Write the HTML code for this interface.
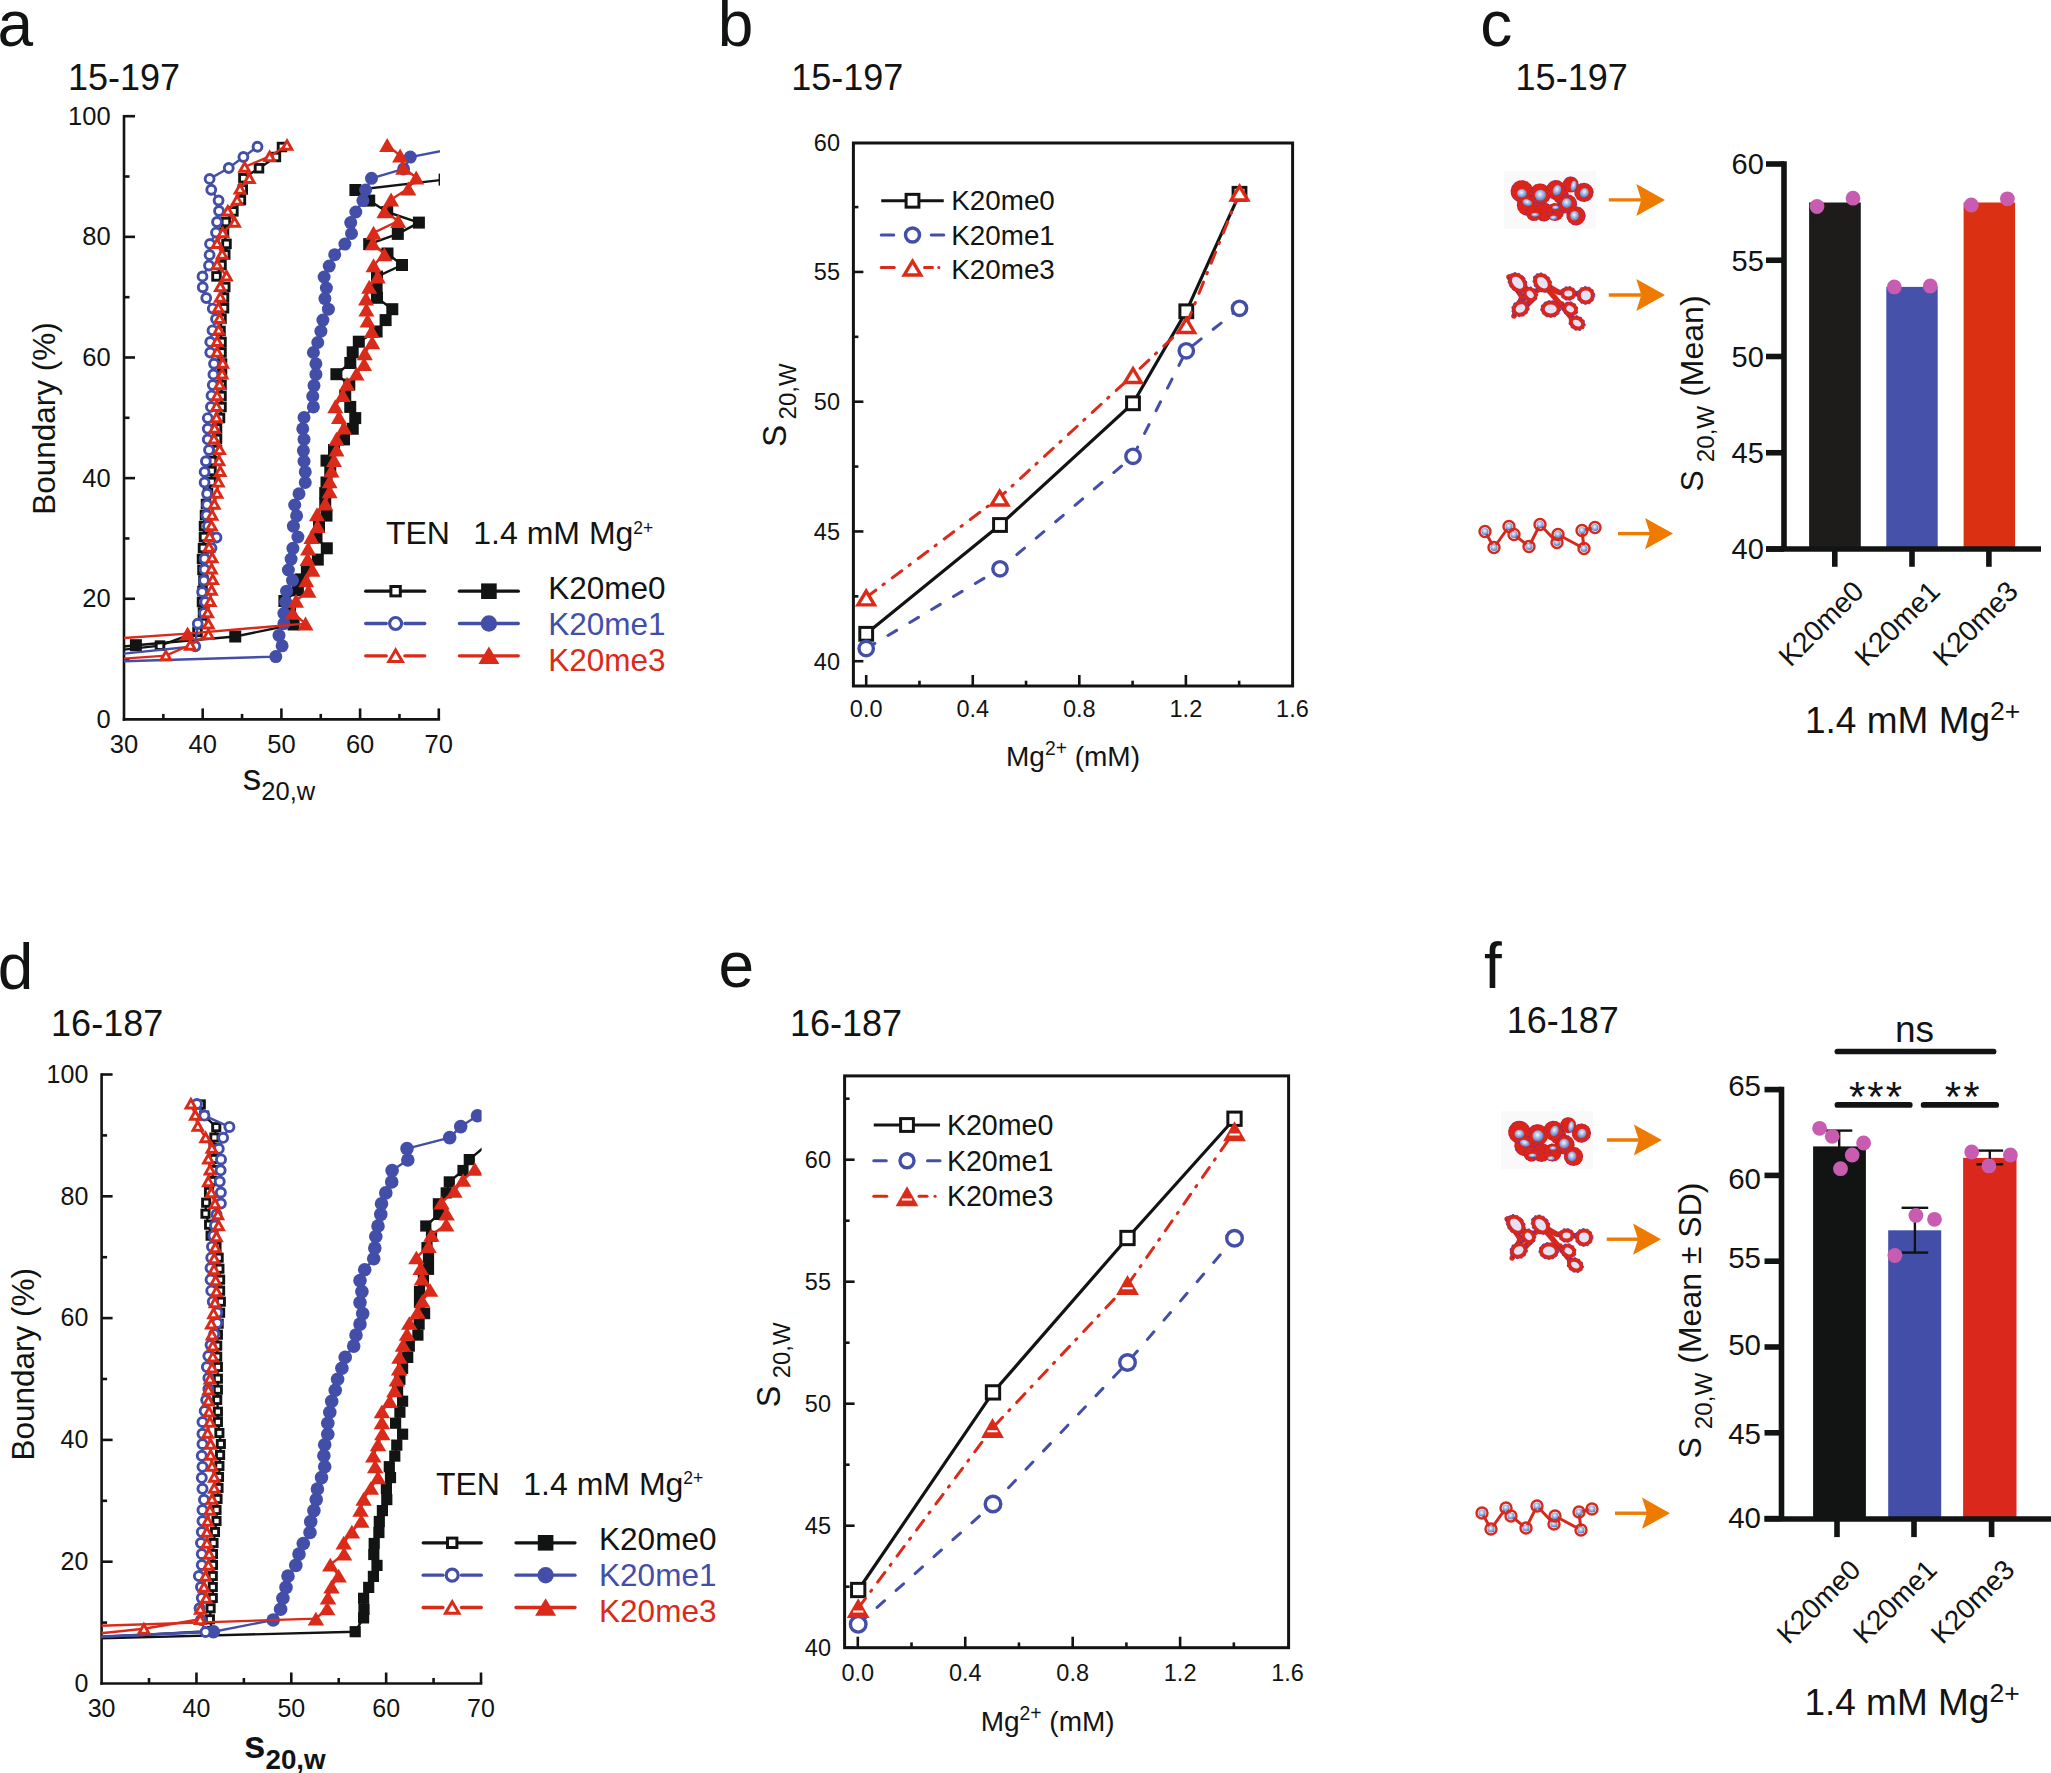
<!DOCTYPE html>
<html><head><meta charset="utf-8"><title>Figure</title>
<style>html,body{margin:0;padding:0;background:#fff;}svg{display:block;}</style>
</head><body>
<svg xmlns="http://www.w3.org/2000/svg" width="2051" height="1773" viewBox="0 0 2051 1773" font-family='"Liberation Sans", Arial, Helvetica, sans-serif'>
<defs>
<clipPath id="clipA"><rect x="124" y="100" width="316" height="620"/></clipPath>
<clipPath id="clipD"><rect x="101.6" y="1060" width="380" height="624"/></clipPath>
<radialGradient id="nuc" cx="0.45" cy="0.4" r="0.65"><stop offset="0" stop-color="#f4f8ff"/><stop offset="0.4" stop-color="#a9bde6"/><stop offset="0.85" stop-color="#6680bf"/><stop offset="1" stop-color="#3d4f8a"/></radialGradient>
</defs>
<rect x="0" y="0" width="2051" height="1773" fill="#fff"/>
<text x="-2.4" y="45.5" font-size="64" fill="#121413" text-anchor="start" >a</text>
<text x="717.8" y="45.6" font-size="64" fill="#121413" text-anchor="start" >b</text>
<text x="1480.2" y="46.2" font-size="64" fill="#121413" text-anchor="start" >c</text>
<text x="-2.2" y="988.6" font-size="64" fill="#121413" text-anchor="start" >d</text>
<text x="718.5" y="986.5" font-size="64" fill="#121413" text-anchor="start" >e</text>
<text x="1484" y="988" font-size="64" fill="#121413" text-anchor="start" >f</text>
<text x="68" y="90" font-size="36" fill="#121413" text-anchor="start" >15-197</text>
<text x="791.2" y="89.8" font-size="36" fill="#121413" text-anchor="start" >15-197</text>
<text x="1515.6" y="89.8" font-size="36" fill="#121413" text-anchor="start" >15-197</text>
<text x="51.1" y="1036.2" font-size="36" fill="#121413" text-anchor="start" >16-187</text>
<text x="790" y="1036.2" font-size="36" fill="#121413" text-anchor="start" >16-187</text>
<text x="1506.8" y="1033.1" font-size="36" fill="#121413" text-anchor="start" >16-187</text>
<line x1="124" y1="114.9" x2="124" y2="720.7" stroke="#121413" stroke-width="2.6" stroke-linecap="butt" />
<line x1="122.7" y1="719.4" x2="440.1" y2="719.4" stroke="#121413" stroke-width="2.6" stroke-linecap="butt" />
<line x1="124" y1="659.08" x2="129.5" y2="659.08" stroke="#121413" stroke-width="2.6" stroke-linecap="butt" />
<line x1="124" y1="598.76" x2="135" y2="598.76" stroke="#121413" stroke-width="2.6" stroke-linecap="butt" />
<line x1="124" y1="538.44" x2="129.5" y2="538.44" stroke="#121413" stroke-width="2.6" stroke-linecap="butt" />
<line x1="124" y1="478.12" x2="135" y2="478.12" stroke="#121413" stroke-width="2.6" stroke-linecap="butt" />
<line x1="124" y1="417.8" x2="129.5" y2="417.8" stroke="#121413" stroke-width="2.6" stroke-linecap="butt" />
<line x1="124" y1="357.48" x2="135" y2="357.48" stroke="#121413" stroke-width="2.6" stroke-linecap="butt" />
<line x1="124" y1="297.16" x2="129.5" y2="297.16" stroke="#121413" stroke-width="2.6" stroke-linecap="butt" />
<line x1="124" y1="236.84" x2="135" y2="236.84" stroke="#121413" stroke-width="2.6" stroke-linecap="butt" />
<line x1="124" y1="176.52" x2="129.5" y2="176.52" stroke="#121413" stroke-width="2.6" stroke-linecap="butt" />
<line x1="124" y1="116.2" x2="135" y2="116.2" stroke="#121413" stroke-width="2.6" stroke-linecap="butt" />
<line x1="163.35" y1="719.4" x2="163.35" y2="713.9" stroke="#121413" stroke-width="2.6" stroke-linecap="butt" />
<line x1="202.7" y1="719.4" x2="202.7" y2="708.4" stroke="#121413" stroke-width="2.6" stroke-linecap="butt" />
<line x1="242.05" y1="719.4" x2="242.05" y2="713.9" stroke="#121413" stroke-width="2.6" stroke-linecap="butt" />
<line x1="281.4" y1="719.4" x2="281.4" y2="708.4" stroke="#121413" stroke-width="2.6" stroke-linecap="butt" />
<line x1="320.75" y1="719.4" x2="320.75" y2="713.9" stroke="#121413" stroke-width="2.6" stroke-linecap="butt" />
<line x1="360.1" y1="719.4" x2="360.1" y2="708.4" stroke="#121413" stroke-width="2.6" stroke-linecap="butt" />
<line x1="399.45" y1="719.4" x2="399.45" y2="713.9" stroke="#121413" stroke-width="2.6" stroke-linecap="butt" />
<line x1="438.8" y1="719.4" x2="438.8" y2="708.4" stroke="#121413" stroke-width="2.6" stroke-linecap="butt" />
<text x="110.6" y="728" font-size="25.5" fill="#121413" text-anchor="end" >0</text>
<text x="110.6" y="607.36" font-size="25.5" fill="#121413" text-anchor="end" >20</text>
<text x="110.6" y="486.72" font-size="25.5" fill="#121413" text-anchor="end" >40</text>
<text x="110.6" y="366.08" font-size="25.5" fill="#121413" text-anchor="end" >60</text>
<text x="110.6" y="245.44" font-size="25.5" fill="#121413" text-anchor="end" >80</text>
<text x="110.6" y="124.8" font-size="25.5" fill="#121413" text-anchor="end" >100</text>
<text x="124" y="753" font-size="25.5" fill="#121413" text-anchor="middle" >30</text>
<text x="202.7" y="753" font-size="25.5" fill="#121413" text-anchor="middle" >40</text>
<text x="281.4" y="753" font-size="25.5" fill="#121413" text-anchor="middle" >50</text>
<text x="360.1" y="753" font-size="25.5" fill="#121413" text-anchor="middle" >60</text>
<text x="438.8" y="753" font-size="25.5" fill="#121413" text-anchor="middle" >70</text>
<text transform="translate(54.6,418.5) rotate(-90)" font-size="31.5" fill="#121413" text-anchor="middle">Boundary (%)</text>
<text x="242.8" y="790" font-size="37" fill="#121413">s<tspan font-size="25.5" dy="10">20,w</tspan></text>
<polyline points="116,650.5 160,645.6 197.5,631.9 203,623 203,612.5 202,602 202.5,591 203.5,580.5 202.5,570 202,559 203,548 204,537 204,526 205,515 206,504 208,493 211.5,482 211.5,471 212,461 217,450 217,439 217,428.5 220,418 221.5,407 221.5,396 221.5,385 222,374 222,363.5 221.5,352.5 221.5,342 220.5,331 221.5,318.9 224,308.25 224,297.6 225.25,287 216.5,276.4 221.5,265.1 225.25,254.5 226.5,243.9 224,232.6 225.9,222 233.4,211.4 240.9,200.1 242.75,189.5 243.4,178.25 259,168.25 275.9,157 282,147" fill="none" stroke="#121413" stroke-width="2.4" stroke-linecap="round" stroke-linejoin="round" clip-path="url(#clipA)"/>
<g clip-path="url(#clipA)">
<rect x="112.2" y="646.7" width="7.6" height="7.6" fill="#fff" stroke="#121413" stroke-width="2.9"/>
<rect x="156.2" y="641.8" width="7.6" height="7.6" fill="#fff" stroke="#121413" stroke-width="2.9"/>
<rect x="193.7" y="628.1" width="7.6" height="7.6" fill="#fff" stroke="#121413" stroke-width="2.9"/>
<rect x="199.2" y="619.2" width="7.6" height="7.6" fill="#fff" stroke="#121413" stroke-width="2.9"/>
<rect x="199.2" y="608.7" width="7.6" height="7.6" fill="#fff" stroke="#121413" stroke-width="2.9"/>
<rect x="198.2" y="598.2" width="7.6" height="7.6" fill="#fff" stroke="#121413" stroke-width="2.9"/>
<rect x="198.7" y="587.2" width="7.6" height="7.6" fill="#fff" stroke="#121413" stroke-width="2.9"/>
<rect x="199.7" y="576.7" width="7.6" height="7.6" fill="#fff" stroke="#121413" stroke-width="2.9"/>
<rect x="198.7" y="566.2" width="7.6" height="7.6" fill="#fff" stroke="#121413" stroke-width="2.9"/>
<rect x="198.2" y="555.2" width="7.6" height="7.6" fill="#fff" stroke="#121413" stroke-width="2.9"/>
<rect x="199.2" y="544.2" width="7.6" height="7.6" fill="#fff" stroke="#121413" stroke-width="2.9"/>
<rect x="200.2" y="533.2" width="7.6" height="7.6" fill="#fff" stroke="#121413" stroke-width="2.9"/>
<rect x="200.2" y="522.2" width="7.6" height="7.6" fill="#fff" stroke="#121413" stroke-width="2.9"/>
<rect x="201.2" y="511.2" width="7.6" height="7.6" fill="#fff" stroke="#121413" stroke-width="2.9"/>
<rect x="202.2" y="500.2" width="7.6" height="7.6" fill="#fff" stroke="#121413" stroke-width="2.9"/>
<rect x="204.2" y="489.2" width="7.6" height="7.6" fill="#fff" stroke="#121413" stroke-width="2.9"/>
<rect x="207.7" y="478.2" width="7.6" height="7.6" fill="#fff" stroke="#121413" stroke-width="2.9"/>
<rect x="207.7" y="467.2" width="7.6" height="7.6" fill="#fff" stroke="#121413" stroke-width="2.9"/>
<rect x="208.2" y="457.2" width="7.6" height="7.6" fill="#fff" stroke="#121413" stroke-width="2.9"/>
<rect x="213.2" y="446.2" width="7.6" height="7.6" fill="#fff" stroke="#121413" stroke-width="2.9"/>
<rect x="213.2" y="435.2" width="7.6" height="7.6" fill="#fff" stroke="#121413" stroke-width="2.9"/>
<rect x="213.2" y="424.7" width="7.6" height="7.6" fill="#fff" stroke="#121413" stroke-width="2.9"/>
<rect x="216.2" y="414.2" width="7.6" height="7.6" fill="#fff" stroke="#121413" stroke-width="2.9"/>
<rect x="217.7" y="403.2" width="7.6" height="7.6" fill="#fff" stroke="#121413" stroke-width="2.9"/>
<rect x="217.7" y="392.2" width="7.6" height="7.6" fill="#fff" stroke="#121413" stroke-width="2.9"/>
<rect x="217.7" y="381.2" width="7.6" height="7.6" fill="#fff" stroke="#121413" stroke-width="2.9"/>
<rect x="218.2" y="370.2" width="7.6" height="7.6" fill="#fff" stroke="#121413" stroke-width="2.9"/>
<rect x="218.2" y="359.7" width="7.6" height="7.6" fill="#fff" stroke="#121413" stroke-width="2.9"/>
<rect x="217.7" y="348.7" width="7.6" height="7.6" fill="#fff" stroke="#121413" stroke-width="2.9"/>
<rect x="217.7" y="338.2" width="7.6" height="7.6" fill="#fff" stroke="#121413" stroke-width="2.9"/>
<rect x="216.7" y="327.2" width="7.6" height="7.6" fill="#fff" stroke="#121413" stroke-width="2.9"/>
<rect x="217.7" y="315.1" width="7.6" height="7.6" fill="#fff" stroke="#121413" stroke-width="2.9"/>
<rect x="220.2" y="304.45" width="7.6" height="7.6" fill="#fff" stroke="#121413" stroke-width="2.9"/>
<rect x="220.2" y="293.8" width="7.6" height="7.6" fill="#fff" stroke="#121413" stroke-width="2.9"/>
<rect x="221.45" y="283.2" width="7.6" height="7.6" fill="#fff" stroke="#121413" stroke-width="2.9"/>
<rect x="212.7" y="272.6" width="7.6" height="7.6" fill="#fff" stroke="#121413" stroke-width="2.9"/>
<rect x="217.7" y="261.3" width="7.6" height="7.6" fill="#fff" stroke="#121413" stroke-width="2.9"/>
<rect x="221.45" y="250.7" width="7.6" height="7.6" fill="#fff" stroke="#121413" stroke-width="2.9"/>
<rect x="222.7" y="240.1" width="7.6" height="7.6" fill="#fff" stroke="#121413" stroke-width="2.9"/>
<rect x="220.2" y="228.8" width="7.6" height="7.6" fill="#fff" stroke="#121413" stroke-width="2.9"/>
<rect x="222.1" y="218.2" width="7.6" height="7.6" fill="#fff" stroke="#121413" stroke-width="2.9"/>
<rect x="229.6" y="207.6" width="7.6" height="7.6" fill="#fff" stroke="#121413" stroke-width="2.9"/>
<rect x="237.1" y="196.3" width="7.6" height="7.6" fill="#fff" stroke="#121413" stroke-width="2.9"/>
<rect x="238.95" y="185.7" width="7.6" height="7.6" fill="#fff" stroke="#121413" stroke-width="2.9"/>
<rect x="239.6" y="174.45" width="7.6" height="7.6" fill="#fff" stroke="#121413" stroke-width="2.9"/>
<rect x="255.2" y="164.45" width="7.6" height="7.6" fill="#fff" stroke="#121413" stroke-width="2.9"/>
<rect x="272.1" y="153.2" width="7.6" height="7.6" fill="#fff" stroke="#121413" stroke-width="2.9"/>
<rect x="278.2" y="143.2" width="7.6" height="7.6" fill="#fff" stroke="#121413" stroke-width="2.9"/>
</g>
<polyline points="116,647.5 135.9,645.2 235.25,636.5 293.6,624.5 290,613 284.4,601 297.9,590.3 300.6,579.4 306.9,569.5 317.8,559.6 326.8,548.3 316.5,537.5 319,526.25 326.5,515.6 325.25,503.75 325.25,493.1 326.5,482.5 330.25,471.25 326.5,460.6 334,450 344,439.4 352.75,428.75 355.25,418.1 350.25,406.9 345.25,395.6 349.3,384.6 336.4,374.2 350.3,363 352.7,352.3 358.8,341.7 376.6,331.5 385.6,320.1 392.3,309.2 377,297.8 376.6,287.6 377,276.6 402,265 387.5,253.5 369.2,244.1 397.8,233.9 418.9,222.6 387.2,212 369.2,200.6 355.4,190 444.6,179.6" fill="none" stroke="#121413" stroke-width="2.4" stroke-linecap="round" stroke-linejoin="round" clip-path="url(#clipA)"/>
<g clip-path="url(#clipA)">
<rect x="110" y="641.5" width="12" height="12" fill="#121413"/>
<rect x="129.9" y="639.2" width="12" height="12" fill="#121413"/>
<rect x="229.25" y="630.5" width="12" height="12" fill="#121413"/>
<rect x="287.6" y="618.5" width="12" height="12" fill="#121413"/>
<rect x="284" y="607" width="12" height="12" fill="#121413"/>
<rect x="278.4" y="595" width="12" height="12" fill="#121413"/>
<rect x="291.9" y="584.3" width="12" height="12" fill="#121413"/>
<rect x="294.6" y="573.4" width="12" height="12" fill="#121413"/>
<rect x="300.9" y="563.5" width="12" height="12" fill="#121413"/>
<rect x="311.8" y="553.6" width="12" height="12" fill="#121413"/>
<rect x="320.8" y="542.3" width="12" height="12" fill="#121413"/>
<rect x="310.5" y="531.5" width="12" height="12" fill="#121413"/>
<rect x="313" y="520.25" width="12" height="12" fill="#121413"/>
<rect x="320.5" y="509.6" width="12" height="12" fill="#121413"/>
<rect x="319.25" y="497.75" width="12" height="12" fill="#121413"/>
<rect x="319.25" y="487.1" width="12" height="12" fill="#121413"/>
<rect x="320.5" y="476.5" width="12" height="12" fill="#121413"/>
<rect x="324.25" y="465.25" width="12" height="12" fill="#121413"/>
<rect x="320.5" y="454.6" width="12" height="12" fill="#121413"/>
<rect x="328" y="444" width="12" height="12" fill="#121413"/>
<rect x="338" y="433.4" width="12" height="12" fill="#121413"/>
<rect x="346.75" y="422.75" width="12" height="12" fill="#121413"/>
<rect x="349.25" y="412.1" width="12" height="12" fill="#121413"/>
<rect x="344.25" y="400.9" width="12" height="12" fill="#121413"/>
<rect x="339.25" y="389.6" width="12" height="12" fill="#121413"/>
<rect x="343.3" y="378.6" width="12" height="12" fill="#121413"/>
<rect x="330.4" y="368.2" width="12" height="12" fill="#121413"/>
<rect x="344.3" y="357" width="12" height="12" fill="#121413"/>
<rect x="346.7" y="346.3" width="12" height="12" fill="#121413"/>
<rect x="352.8" y="335.7" width="12" height="12" fill="#121413"/>
<rect x="370.6" y="325.5" width="12" height="12" fill="#121413"/>
<rect x="379.6" y="314.1" width="12" height="12" fill="#121413"/>
<rect x="386.3" y="303.2" width="12" height="12" fill="#121413"/>
<rect x="371" y="291.8" width="12" height="12" fill="#121413"/>
<rect x="370.6" y="281.6" width="12" height="12" fill="#121413"/>
<rect x="371" y="270.6" width="12" height="12" fill="#121413"/>
<rect x="396" y="259" width="12" height="12" fill="#121413"/>
<rect x="381.5" y="247.5" width="12" height="12" fill="#121413"/>
<rect x="363.2" y="238.1" width="12" height="12" fill="#121413"/>
<rect x="391.8" y="227.9" width="12" height="12" fill="#121413"/>
<rect x="412.9" y="216.6" width="12" height="12" fill="#121413"/>
<rect x="381.2" y="206" width="12" height="12" fill="#121413"/>
<rect x="363.2" y="194.6" width="12" height="12" fill="#121413"/>
<rect x="349.4" y="184" width="12" height="12" fill="#121413"/>
<rect x="438.6" y="173.6" width="12" height="12" fill="#121413"/>
</g>
<polyline points="116,661.5 275.8,656.6 282.1,645.8 279,635.4 283.9,623.6 283.9,613.3 285.7,602 286.6,591.2 292.5,580.3 288.4,570 291.1,559.1 292.9,548.3 297.9,537 293.4,526.2 296.6,515.8 294.7,505 299,493.75 305.25,482.5 305.25,471.9 304,461.25 303.4,450.6 304,439.4 302.75,428.75 304,417.5 313.4,406.9 312.75,396.25 314,385.6 315.9,374.4 315.9,363.75 313.4,352.5 317.75,342.5 320.9,331.2 322.9,320.1 328.4,309.2 324.9,298.6 326.4,288 324.1,277 329.2,266.1 334.7,254.7 344.9,244.1 351.5,233.5 350.7,222.6 355.8,212 362.9,200.6 365.6,190 371.5,178.3 403.6,168.9 410.3,157.1 470,145.5" fill="none" stroke="#434EA8" stroke-width="2.4" stroke-linecap="round" stroke-linejoin="round" clip-path="url(#clipA)"/>
<g clip-path="url(#clipA)">
<circle cx="116" cy="661.5" r="6.5" fill="#434EA8"/>
<circle cx="275.8" cy="656.6" r="6.5" fill="#434EA8"/>
<circle cx="282.1" cy="645.8" r="6.5" fill="#434EA8"/>
<circle cx="279" cy="635.4" r="6.5" fill="#434EA8"/>
<circle cx="283.9" cy="623.6" r="6.5" fill="#434EA8"/>
<circle cx="283.9" cy="613.3" r="6.5" fill="#434EA8"/>
<circle cx="285.7" cy="602" r="6.5" fill="#434EA8"/>
<circle cx="286.6" cy="591.2" r="6.5" fill="#434EA8"/>
<circle cx="292.5" cy="580.3" r="6.5" fill="#434EA8"/>
<circle cx="288.4" cy="570" r="6.5" fill="#434EA8"/>
<circle cx="291.1" cy="559.1" r="6.5" fill="#434EA8"/>
<circle cx="292.9" cy="548.3" r="6.5" fill="#434EA8"/>
<circle cx="297.9" cy="537" r="6.5" fill="#434EA8"/>
<circle cx="293.4" cy="526.2" r="6.5" fill="#434EA8"/>
<circle cx="296.6" cy="515.8" r="6.5" fill="#434EA8"/>
<circle cx="294.7" cy="505" r="6.5" fill="#434EA8"/>
<circle cx="299" cy="493.75" r="6.5" fill="#434EA8"/>
<circle cx="305.25" cy="482.5" r="6.5" fill="#434EA8"/>
<circle cx="305.25" cy="471.9" r="6.5" fill="#434EA8"/>
<circle cx="304" cy="461.25" r="6.5" fill="#434EA8"/>
<circle cx="303.4" cy="450.6" r="6.5" fill="#434EA8"/>
<circle cx="304" cy="439.4" r="6.5" fill="#434EA8"/>
<circle cx="302.75" cy="428.75" r="6.5" fill="#434EA8"/>
<circle cx="304" cy="417.5" r="6.5" fill="#434EA8"/>
<circle cx="313.4" cy="406.9" r="6.5" fill="#434EA8"/>
<circle cx="312.75" cy="396.25" r="6.5" fill="#434EA8"/>
<circle cx="314" cy="385.6" r="6.5" fill="#434EA8"/>
<circle cx="315.9" cy="374.4" r="6.5" fill="#434EA8"/>
<circle cx="315.9" cy="363.75" r="6.5" fill="#434EA8"/>
<circle cx="313.4" cy="352.5" r="6.5" fill="#434EA8"/>
<circle cx="317.75" cy="342.5" r="6.5" fill="#434EA8"/>
<circle cx="320.9" cy="331.2" r="6.5" fill="#434EA8"/>
<circle cx="322.9" cy="320.1" r="6.5" fill="#434EA8"/>
<circle cx="328.4" cy="309.2" r="6.5" fill="#434EA8"/>
<circle cx="324.9" cy="298.6" r="6.5" fill="#434EA8"/>
<circle cx="326.4" cy="288" r="6.5" fill="#434EA8"/>
<circle cx="324.1" cy="277" r="6.5" fill="#434EA8"/>
<circle cx="329.2" cy="266.1" r="6.5" fill="#434EA8"/>
<circle cx="334.7" cy="254.7" r="6.5" fill="#434EA8"/>
<circle cx="344.9" cy="244.1" r="6.5" fill="#434EA8"/>
<circle cx="351.5" cy="233.5" r="6.5" fill="#434EA8"/>
<circle cx="350.7" cy="222.6" r="6.5" fill="#434EA8"/>
<circle cx="355.8" cy="212" r="6.5" fill="#434EA8"/>
<circle cx="362.9" cy="200.6" r="6.5" fill="#434EA8"/>
<circle cx="365.6" cy="190" r="6.5" fill="#434EA8"/>
<circle cx="371.5" cy="178.3" r="6.5" fill="#434EA8"/>
<circle cx="403.6" cy="168.9" r="6.5" fill="#434EA8"/>
<circle cx="410.3" cy="157.1" r="6.5" fill="#434EA8"/>
<circle cx="470" cy="145.5" r="6.5" fill="#434EA8"/>
</g>
<polyline points="116,638.5 187.6,633.6 305.5,623.6 292.75,612.8 296,600.8 308.5,590.8 306.2,580.2 312.4,569.7 307.6,559 308.1,548.4 311.4,536.9 317.5,525.9 317,514.3 325.2,503.4 329.6,491.25 329.6,481.25 331.5,470.6 334,460 336.5,449.4 336.5,438.75 344,427.5 339,416.9 335.25,406.25 342.75,395 347,383.75 356.5,373.4 364.1,364 364.8,353.2 372.2,342.2 371.7,331 367.6,320.5 366.4,309.6 366,298.6 369.2,286.8 377.8,276.6 373.5,265.3 384.4,254.2 372.7,243.3 373.5,232.8 398.2,221 384.4,211.2 391.1,199.5 408.3,188.5 416.2,177.5 403.2,167.7 400.1,155.6 387.2,145" fill="none" stroke="#DA2A19" stroke-width="2.4" stroke-linecap="round" stroke-linejoin="round" clip-path="url(#clipA)"/>
<g clip-path="url(#clipA)">
<polygon points="116,631.5 124,645.5 108,645.5" fill="#DA2A19"/>
<polygon points="187.6,626.6 195.6,640.6 179.6,640.6" fill="#DA2A19"/>
<polygon points="305.5,616.6 313.5,630.6 297.5,630.6" fill="#DA2A19"/>
<polygon points="292.75,605.8 300.75,619.8 284.75,619.8" fill="#DA2A19"/>
<polygon points="296,593.8 304,607.8 288,607.8" fill="#DA2A19"/>
<polygon points="308.5,583.8 316.5,597.8 300.5,597.8" fill="#DA2A19"/>
<polygon points="306.2,573.2 314.2,587.2 298.2,587.2" fill="#DA2A19"/>
<polygon points="312.4,562.7 320.4,576.7 304.4,576.7" fill="#DA2A19"/>
<polygon points="307.6,552 315.6,566 299.6,566" fill="#DA2A19"/>
<polygon points="308.1,541.4 316.1,555.4 300.1,555.4" fill="#DA2A19"/>
<polygon points="311.4,529.9 319.4,543.9 303.4,543.9" fill="#DA2A19"/>
<polygon points="317.5,518.9 325.5,532.9 309.5,532.9" fill="#DA2A19"/>
<polygon points="317,507.3 325,521.3 309,521.3" fill="#DA2A19"/>
<polygon points="325.2,496.4 333.2,510.4 317.2,510.4" fill="#DA2A19"/>
<polygon points="329.6,484.25 337.6,498.25 321.6,498.25" fill="#DA2A19"/>
<polygon points="329.6,474.25 337.6,488.25 321.6,488.25" fill="#DA2A19"/>
<polygon points="331.5,463.6 339.5,477.6 323.5,477.6" fill="#DA2A19"/>
<polygon points="334,453 342,467 326,467" fill="#DA2A19"/>
<polygon points="336.5,442.4 344.5,456.4 328.5,456.4" fill="#DA2A19"/>
<polygon points="336.5,431.75 344.5,445.75 328.5,445.75" fill="#DA2A19"/>
<polygon points="344,420.5 352,434.5 336,434.5" fill="#DA2A19"/>
<polygon points="339,409.9 347,423.9 331,423.9" fill="#DA2A19"/>
<polygon points="335.25,399.25 343.25,413.25 327.25,413.25" fill="#DA2A19"/>
<polygon points="342.75,388 350.75,402 334.75,402" fill="#DA2A19"/>
<polygon points="347,376.75 355,390.75 339,390.75" fill="#DA2A19"/>
<polygon points="356.5,366.4 364.5,380.4 348.5,380.4" fill="#DA2A19"/>
<polygon points="364.1,357 372.1,371 356.1,371" fill="#DA2A19"/>
<polygon points="364.8,346.2 372.8,360.2 356.8,360.2" fill="#DA2A19"/>
<polygon points="372.2,335.2 380.2,349.2 364.2,349.2" fill="#DA2A19"/>
<polygon points="371.7,324 379.7,338 363.7,338" fill="#DA2A19"/>
<polygon points="367.6,313.5 375.6,327.5 359.6,327.5" fill="#DA2A19"/>
<polygon points="366.4,302.6 374.4,316.6 358.4,316.6" fill="#DA2A19"/>
<polygon points="366,291.6 374,305.6 358,305.6" fill="#DA2A19"/>
<polygon points="369.2,279.8 377.2,293.8 361.2,293.8" fill="#DA2A19"/>
<polygon points="377.8,269.6 385.8,283.6 369.8,283.6" fill="#DA2A19"/>
<polygon points="373.5,258.3 381.5,272.3 365.5,272.3" fill="#DA2A19"/>
<polygon points="384.4,247.2 392.4,261.2 376.4,261.2" fill="#DA2A19"/>
<polygon points="372.7,236.3 380.7,250.3 364.7,250.3" fill="#DA2A19"/>
<polygon points="373.5,225.8 381.5,239.8 365.5,239.8" fill="#DA2A19"/>
<polygon points="398.2,214 406.2,228 390.2,228" fill="#DA2A19"/>
<polygon points="384.4,204.2 392.4,218.2 376.4,218.2" fill="#DA2A19"/>
<polygon points="391.1,192.5 399.1,206.5 383.1,206.5" fill="#DA2A19"/>
<polygon points="408.3,181.5 416.3,195.5 400.3,195.5" fill="#DA2A19"/>
<polygon points="416.2,170.5 424.2,184.5 408.2,184.5" fill="#DA2A19"/>
<polygon points="403.2,160.7 411.2,174.7 395.2,174.7" fill="#DA2A19"/>
<polygon points="400.1,148.6 408.1,162.6 392.1,162.6" fill="#DA2A19"/>
<polygon points="387.2,138 395.2,152 379.2,152" fill="#DA2A19"/>
</g>
<polyline points="116,654.5 195.25,646.25 197.75,623.75 204,613.1 205.25,601.9 202.1,591.9 204,580.6 204.6,569.4 204.6,558.75 211.5,548.1 216.5,537.5 208,526 206.5,515.3 207,504.7 207.1,493.75 204.6,482.5 204.6,471.9 205.9,461.25 209,450 207.75,439.4 207.75,428.75 207.75,418.1 210.9,406.9 211.5,395.6 212.75,385 213.4,374.4 214,363.75 210.25,352.5 210.25,341.9 212.5,330.3 216,318.9 212.75,308.6 206.25,298 202.75,287.25 202.5,276.4 209,265.5 209.6,254.9 210,243.9 216,232.6 217,222 219,211 218.6,200.5 211.25,189.75 209.6,178.9 228.75,168 243.4,157 257.5,146.75" fill="none" stroke="#434EA8" stroke-width="2.4" stroke-linecap="round" stroke-linejoin="round" clip-path="url(#clipA)"/>
<g clip-path="url(#clipA)">
<circle cx="116" cy="654.5" r="4.45" fill="#fff" stroke="#434EA8" stroke-width="2.9"/>
<circle cx="195.25" cy="646.25" r="4.45" fill="#fff" stroke="#434EA8" stroke-width="2.9"/>
<circle cx="197.75" cy="623.75" r="4.45" fill="#fff" stroke="#434EA8" stroke-width="2.9"/>
<circle cx="204" cy="613.1" r="4.45" fill="#fff" stroke="#434EA8" stroke-width="2.9"/>
<circle cx="205.25" cy="601.9" r="4.45" fill="#fff" stroke="#434EA8" stroke-width="2.9"/>
<circle cx="202.1" cy="591.9" r="4.45" fill="#fff" stroke="#434EA8" stroke-width="2.9"/>
<circle cx="204" cy="580.6" r="4.45" fill="#fff" stroke="#434EA8" stroke-width="2.9"/>
<circle cx="204.6" cy="569.4" r="4.45" fill="#fff" stroke="#434EA8" stroke-width="2.9"/>
<circle cx="204.6" cy="558.75" r="4.45" fill="#fff" stroke="#434EA8" stroke-width="2.9"/>
<circle cx="211.5" cy="548.1" r="4.45" fill="#fff" stroke="#434EA8" stroke-width="2.9"/>
<circle cx="216.5" cy="537.5" r="4.45" fill="#fff" stroke="#434EA8" stroke-width="2.9"/>
<circle cx="208" cy="526" r="4.45" fill="#fff" stroke="#434EA8" stroke-width="2.9"/>
<circle cx="206.5" cy="515.3" r="4.45" fill="#fff" stroke="#434EA8" stroke-width="2.9"/>
<circle cx="207" cy="504.7" r="4.45" fill="#fff" stroke="#434EA8" stroke-width="2.9"/>
<circle cx="207.1" cy="493.75" r="4.45" fill="#fff" stroke="#434EA8" stroke-width="2.9"/>
<circle cx="204.6" cy="482.5" r="4.45" fill="#fff" stroke="#434EA8" stroke-width="2.9"/>
<circle cx="204.6" cy="471.9" r="4.45" fill="#fff" stroke="#434EA8" stroke-width="2.9"/>
<circle cx="205.9" cy="461.25" r="4.45" fill="#fff" stroke="#434EA8" stroke-width="2.9"/>
<circle cx="209" cy="450" r="4.45" fill="#fff" stroke="#434EA8" stroke-width="2.9"/>
<circle cx="207.75" cy="439.4" r="4.45" fill="#fff" stroke="#434EA8" stroke-width="2.9"/>
<circle cx="207.75" cy="428.75" r="4.45" fill="#fff" stroke="#434EA8" stroke-width="2.9"/>
<circle cx="207.75" cy="418.1" r="4.45" fill="#fff" stroke="#434EA8" stroke-width="2.9"/>
<circle cx="210.9" cy="406.9" r="4.45" fill="#fff" stroke="#434EA8" stroke-width="2.9"/>
<circle cx="211.5" cy="395.6" r="4.45" fill="#fff" stroke="#434EA8" stroke-width="2.9"/>
<circle cx="212.75" cy="385" r="4.45" fill="#fff" stroke="#434EA8" stroke-width="2.9"/>
<circle cx="213.4" cy="374.4" r="4.45" fill="#fff" stroke="#434EA8" stroke-width="2.9"/>
<circle cx="214" cy="363.75" r="4.45" fill="#fff" stroke="#434EA8" stroke-width="2.9"/>
<circle cx="210.25" cy="352.5" r="4.45" fill="#fff" stroke="#434EA8" stroke-width="2.9"/>
<circle cx="210.25" cy="341.9" r="4.45" fill="#fff" stroke="#434EA8" stroke-width="2.9"/>
<circle cx="212.5" cy="330.3" r="4.45" fill="#fff" stroke="#434EA8" stroke-width="2.9"/>
<circle cx="216" cy="318.9" r="4.45" fill="#fff" stroke="#434EA8" stroke-width="2.9"/>
<circle cx="212.75" cy="308.6" r="4.45" fill="#fff" stroke="#434EA8" stroke-width="2.9"/>
<circle cx="206.25" cy="298" r="4.45" fill="#fff" stroke="#434EA8" stroke-width="2.9"/>
<circle cx="202.75" cy="287.25" r="4.45" fill="#fff" stroke="#434EA8" stroke-width="2.9"/>
<circle cx="202.5" cy="276.4" r="4.45" fill="#fff" stroke="#434EA8" stroke-width="2.9"/>
<circle cx="209" cy="265.5" r="4.45" fill="#fff" stroke="#434EA8" stroke-width="2.9"/>
<circle cx="209.6" cy="254.9" r="4.45" fill="#fff" stroke="#434EA8" stroke-width="2.9"/>
<circle cx="210" cy="243.9" r="4.45" fill="#fff" stroke="#434EA8" stroke-width="2.9"/>
<circle cx="216" cy="232.6" r="4.45" fill="#fff" stroke="#434EA8" stroke-width="2.9"/>
<circle cx="217" cy="222" r="4.45" fill="#fff" stroke="#434EA8" stroke-width="2.9"/>
<circle cx="219" cy="211" r="4.45" fill="#fff" stroke="#434EA8" stroke-width="2.9"/>
<circle cx="218.6" cy="200.5" r="4.45" fill="#fff" stroke="#434EA8" stroke-width="2.9"/>
<circle cx="211.25" cy="189.75" r="4.45" fill="#fff" stroke="#434EA8" stroke-width="2.9"/>
<circle cx="209.6" cy="178.9" r="4.45" fill="#fff" stroke="#434EA8" stroke-width="2.9"/>
<circle cx="228.75" cy="168" r="4.45" fill="#fff" stroke="#434EA8" stroke-width="2.9"/>
<circle cx="243.4" cy="157" r="4.45" fill="#fff" stroke="#434EA8" stroke-width="2.9"/>
<circle cx="257.5" cy="146.75" r="4.45" fill="#fff" stroke="#434EA8" stroke-width="2.9"/>
</g>
<polyline points="116,659.2 165.9,655.6 190.25,645 208.4,634.4 208.4,623.75 207.75,612.5 210.25,601.25 211.5,590 212.75,579.4 211.5,568.75 212.1,557.5 209,546.9 209.6,536.25 211.5,525.6 212.1,515 214.3,504 217.1,493.1 218.4,481.9 220.25,471.25 219,460.6 219.6,449.4 214,438.75 214.6,428.1 216.5,417.5 216.5,406.25 217.1,395.6 219.6,384.4 222.1,373.75 222.75,363.1 217.1,351.9 217.1,341.25 218.7,329.75 219.6,318.25 218.4,307.6 220.25,297 220.25,286.4 226.5,275.75 217.1,264.5 222.1,253.9 217.1,243.25 222.75,232.6 234.6,222 227.75,210.75 237.1,200.1 240,188.9 249.4,178.25 244.6,167 269.6,156.4 287,145" fill="none" stroke="#DA2A19" stroke-width="2.4" stroke-linecap="round" stroke-linejoin="round" clip-path="url(#clipA)"/>
<g clip-path="url(#clipA)">
<polygon points="116,655 120.8,663.4 111.2,663.4" fill="#fff" stroke="#DA2A19" stroke-width="2.9" stroke-linejoin="miter"/>
<polygon points="165.9,651.4 170.7,659.8 161.1,659.8" fill="#fff" stroke="#DA2A19" stroke-width="2.9" stroke-linejoin="miter"/>
<polygon points="190.25,640.8 195.05,649.2 185.45,649.2" fill="#fff" stroke="#DA2A19" stroke-width="2.9" stroke-linejoin="miter"/>
<polygon points="208.4,630.2 213.2,638.6 203.6,638.6" fill="#fff" stroke="#DA2A19" stroke-width="2.9" stroke-linejoin="miter"/>
<polygon points="208.4,619.55 213.2,627.95 203.6,627.95" fill="#fff" stroke="#DA2A19" stroke-width="2.9" stroke-linejoin="miter"/>
<polygon points="207.75,608.3 212.55,616.7 202.95,616.7" fill="#fff" stroke="#DA2A19" stroke-width="2.9" stroke-linejoin="miter"/>
<polygon points="210.25,597.05 215.05,605.45 205.45,605.45" fill="#fff" stroke="#DA2A19" stroke-width="2.9" stroke-linejoin="miter"/>
<polygon points="211.5,585.8 216.3,594.2 206.7,594.2" fill="#fff" stroke="#DA2A19" stroke-width="2.9" stroke-linejoin="miter"/>
<polygon points="212.75,575.2 217.55,583.6 207.95,583.6" fill="#fff" stroke="#DA2A19" stroke-width="2.9" stroke-linejoin="miter"/>
<polygon points="211.5,564.55 216.3,572.95 206.7,572.95" fill="#fff" stroke="#DA2A19" stroke-width="2.9" stroke-linejoin="miter"/>
<polygon points="212.1,553.3 216.9,561.7 207.3,561.7" fill="#fff" stroke="#DA2A19" stroke-width="2.9" stroke-linejoin="miter"/>
<polygon points="209,542.7 213.8,551.1 204.2,551.1" fill="#fff" stroke="#DA2A19" stroke-width="2.9" stroke-linejoin="miter"/>
<polygon points="209.6,532.05 214.4,540.45 204.8,540.45" fill="#fff" stroke="#DA2A19" stroke-width="2.9" stroke-linejoin="miter"/>
<polygon points="211.5,521.4 216.3,529.8 206.7,529.8" fill="#fff" stroke="#DA2A19" stroke-width="2.9" stroke-linejoin="miter"/>
<polygon points="212.1,510.8 216.9,519.2 207.3,519.2" fill="#fff" stroke="#DA2A19" stroke-width="2.9" stroke-linejoin="miter"/>
<polygon points="214.3,499.8 219.1,508.2 209.5,508.2" fill="#fff" stroke="#DA2A19" stroke-width="2.9" stroke-linejoin="miter"/>
<polygon points="217.1,488.9 221.9,497.3 212.3,497.3" fill="#fff" stroke="#DA2A19" stroke-width="2.9" stroke-linejoin="miter"/>
<polygon points="218.4,477.7 223.2,486.1 213.6,486.1" fill="#fff" stroke="#DA2A19" stroke-width="2.9" stroke-linejoin="miter"/>
<polygon points="220.25,467.05 225.05,475.45 215.45,475.45" fill="#fff" stroke="#DA2A19" stroke-width="2.9" stroke-linejoin="miter"/>
<polygon points="219,456.4 223.8,464.8 214.2,464.8" fill="#fff" stroke="#DA2A19" stroke-width="2.9" stroke-linejoin="miter"/>
<polygon points="219.6,445.2 224.4,453.6 214.8,453.6" fill="#fff" stroke="#DA2A19" stroke-width="2.9" stroke-linejoin="miter"/>
<polygon points="214,434.55 218.8,442.95 209.2,442.95" fill="#fff" stroke="#DA2A19" stroke-width="2.9" stroke-linejoin="miter"/>
<polygon points="214.6,423.9 219.4,432.3 209.8,432.3" fill="#fff" stroke="#DA2A19" stroke-width="2.9" stroke-linejoin="miter"/>
<polygon points="216.5,413.3 221.3,421.7 211.7,421.7" fill="#fff" stroke="#DA2A19" stroke-width="2.9" stroke-linejoin="miter"/>
<polygon points="216.5,402.05 221.3,410.45 211.7,410.45" fill="#fff" stroke="#DA2A19" stroke-width="2.9" stroke-linejoin="miter"/>
<polygon points="217.1,391.4 221.9,399.8 212.3,399.8" fill="#fff" stroke="#DA2A19" stroke-width="2.9" stroke-linejoin="miter"/>
<polygon points="219.6,380.2 224.4,388.6 214.8,388.6" fill="#fff" stroke="#DA2A19" stroke-width="2.9" stroke-linejoin="miter"/>
<polygon points="222.1,369.55 226.9,377.95 217.3,377.95" fill="#fff" stroke="#DA2A19" stroke-width="2.9" stroke-linejoin="miter"/>
<polygon points="222.75,358.9 227.55,367.3 217.95,367.3" fill="#fff" stroke="#DA2A19" stroke-width="2.9" stroke-linejoin="miter"/>
<polygon points="217.1,347.7 221.9,356.1 212.3,356.1" fill="#fff" stroke="#DA2A19" stroke-width="2.9" stroke-linejoin="miter"/>
<polygon points="217.1,337.05 221.9,345.45 212.3,345.45" fill="#fff" stroke="#DA2A19" stroke-width="2.9" stroke-linejoin="miter"/>
<polygon points="218.7,325.55 223.5,333.95 213.9,333.95" fill="#fff" stroke="#DA2A19" stroke-width="2.9" stroke-linejoin="miter"/>
<polygon points="219.6,314.05 224.4,322.45 214.8,322.45" fill="#fff" stroke="#DA2A19" stroke-width="2.9" stroke-linejoin="miter"/>
<polygon points="218.4,303.4 223.2,311.8 213.6,311.8" fill="#fff" stroke="#DA2A19" stroke-width="2.9" stroke-linejoin="miter"/>
<polygon points="220.25,292.8 225.05,301.2 215.45,301.2" fill="#fff" stroke="#DA2A19" stroke-width="2.9" stroke-linejoin="miter"/>
<polygon points="220.25,282.2 225.05,290.6 215.45,290.6" fill="#fff" stroke="#DA2A19" stroke-width="2.9" stroke-linejoin="miter"/>
<polygon points="226.5,271.55 231.3,279.95 221.7,279.95" fill="#fff" stroke="#DA2A19" stroke-width="2.9" stroke-linejoin="miter"/>
<polygon points="217.1,260.3 221.9,268.7 212.3,268.7" fill="#fff" stroke="#DA2A19" stroke-width="2.9" stroke-linejoin="miter"/>
<polygon points="222.1,249.7 226.9,258.1 217.3,258.1" fill="#fff" stroke="#DA2A19" stroke-width="2.9" stroke-linejoin="miter"/>
<polygon points="217.1,239.05 221.9,247.45 212.3,247.45" fill="#fff" stroke="#DA2A19" stroke-width="2.9" stroke-linejoin="miter"/>
<polygon points="222.75,228.4 227.55,236.8 217.95,236.8" fill="#fff" stroke="#DA2A19" stroke-width="2.9" stroke-linejoin="miter"/>
<polygon points="234.6,217.8 239.4,226.2 229.8,226.2" fill="#fff" stroke="#DA2A19" stroke-width="2.9" stroke-linejoin="miter"/>
<polygon points="227.75,206.55 232.55,214.95 222.95,214.95" fill="#fff" stroke="#DA2A19" stroke-width="2.9" stroke-linejoin="miter"/>
<polygon points="237.1,195.9 241.9,204.3 232.3,204.3" fill="#fff" stroke="#DA2A19" stroke-width="2.9" stroke-linejoin="miter"/>
<polygon points="240,184.7 244.8,193.1 235.2,193.1" fill="#fff" stroke="#DA2A19" stroke-width="2.9" stroke-linejoin="miter"/>
<polygon points="249.4,174.05 254.2,182.45 244.6,182.45" fill="#fff" stroke="#DA2A19" stroke-width="2.9" stroke-linejoin="miter"/>
<polygon points="244.6,162.8 249.4,171.2 239.8,171.2" fill="#fff" stroke="#DA2A19" stroke-width="2.9" stroke-linejoin="miter"/>
<polygon points="269.6,152.2 274.4,160.6 264.8,160.6" fill="#fff" stroke="#DA2A19" stroke-width="2.9" stroke-linejoin="miter"/>
<polygon points="287,140.8 291.8,149.2 282.2,149.2" fill="#fff" stroke="#DA2A19" stroke-width="2.9" stroke-linejoin="miter"/>
</g>
<text x="385.9" y="544" font-size="32" fill="#121413" text-anchor="start" >TEN</text>
<text x="473.3" y="544" font-size="32" fill="#121413" text-anchor="start" >1.4 mM Mg<tspan font-size="17.5" dy="-10.5">2+</tspan></text>
<line x1="365.7" y1="591.2" x2="395.6" y2="591.2" stroke="#121413" stroke-width="3.3" stroke-linecap="round" />
<line x1="395.6" y1="591.2" x2="424.7" y2="591.2" stroke="#121413" stroke-width="3.3" stroke-linecap="round" />
<line x1="459.4" y1="591.2" x2="518.3" y2="591.2" stroke="#121413" stroke-width="3.3" stroke-linecap="round" />
<rect x="390.9" y="586.5" width="9.4" height="9.4" fill="#fff" stroke="#121413" stroke-width="3"/>
<rect x="481.1" y="583.4" width="15.6" height="15.6" fill="#121413"/>
<text x="548.3" y="598.6" font-size="31.5" fill="#121413" text-anchor="start" >K20me0</text>
<line x1="365.7" y1="623.5" x2="386.3" y2="623.5" stroke="#434EA8" stroke-width="3.3" stroke-linecap="round" />
<line x1="404.9" y1="623.5" x2="424.7" y2="623.5" stroke="#434EA8" stroke-width="3.3" stroke-linecap="round" />
<line x1="459.4" y1="623.5" x2="518.3" y2="623.5" stroke="#434EA8" stroke-width="3.3" stroke-linecap="round" />
<circle cx="395.6" cy="623.5" r="6" fill="#fff" stroke="#434EA8" stroke-width="3.2"/>
<circle cx="488.9" cy="623.5" r="8.2" fill="#434EA8"/>
<text x="548.3" y="635" font-size="31.5" fill="#434EA8" text-anchor="start" >K20me1</text>
<line x1="365.7" y1="655.8" x2="386.3" y2="655.8" stroke="#DA2A19" stroke-width="3.3" stroke-linecap="round" />
<line x1="404.9" y1="655.8" x2="424.7" y2="655.8" stroke="#DA2A19" stroke-width="3.3" stroke-linecap="round" />
<line x1="459.4" y1="655.8" x2="518.3" y2="655.8" stroke="#DA2A19" stroke-width="3.3" stroke-linecap="round" />
<polygon points="395.6,650.05 402.35,661.55 388.85,661.55" fill="#fff" stroke="#DA2A19" stroke-width="3" stroke-linejoin="miter"/>
<polygon points="488.9,646.55 499.4,664.05 478.4,664.05" fill="#DA2A19"/>
<text x="548.3" y="670.8" font-size="31.5" fill="#DA2A19" text-anchor="start" >K20me3</text>
<line x1="101.6" y1="1073.2" x2="101.6" y2="1684.8" stroke="#121413" stroke-width="2.6" stroke-linecap="butt" />
<line x1="100.3" y1="1683.5" x2="482.3" y2="1683.5" stroke="#121413" stroke-width="2.6" stroke-linecap="butt" />
<line x1="101.6" y1="1622.6" x2="107.1" y2="1622.6" stroke="#121413" stroke-width="2.6" stroke-linecap="butt" />
<line x1="101.6" y1="1561.7" x2="112.6" y2="1561.7" stroke="#121413" stroke-width="2.6" stroke-linecap="butt" />
<line x1="101.6" y1="1500.8" x2="107.1" y2="1500.8" stroke="#121413" stroke-width="2.6" stroke-linecap="butt" />
<line x1="101.6" y1="1439.9" x2="112.6" y2="1439.9" stroke="#121413" stroke-width="2.6" stroke-linecap="butt" />
<line x1="101.6" y1="1379" x2="107.1" y2="1379" stroke="#121413" stroke-width="2.6" stroke-linecap="butt" />
<line x1="101.6" y1="1318.1" x2="112.6" y2="1318.1" stroke="#121413" stroke-width="2.6" stroke-linecap="butt" />
<line x1="101.6" y1="1257.2" x2="107.1" y2="1257.2" stroke="#121413" stroke-width="2.6" stroke-linecap="butt" />
<line x1="101.6" y1="1196.3" x2="112.6" y2="1196.3" stroke="#121413" stroke-width="2.6" stroke-linecap="butt" />
<line x1="101.6" y1="1135.4" x2="107.1" y2="1135.4" stroke="#121413" stroke-width="2.6" stroke-linecap="butt" />
<line x1="101.6" y1="1074.5" x2="112.6" y2="1074.5" stroke="#121413" stroke-width="2.6" stroke-linecap="butt" />
<line x1="149.02" y1="1683.5" x2="149.02" y2="1678" stroke="#121413" stroke-width="2.6" stroke-linecap="butt" />
<line x1="196.45" y1="1683.5" x2="196.45" y2="1672.5" stroke="#121413" stroke-width="2.6" stroke-linecap="butt" />
<line x1="243.87" y1="1683.5" x2="243.87" y2="1678" stroke="#121413" stroke-width="2.6" stroke-linecap="butt" />
<line x1="291.3" y1="1683.5" x2="291.3" y2="1672.5" stroke="#121413" stroke-width="2.6" stroke-linecap="butt" />
<line x1="338.73" y1="1683.5" x2="338.73" y2="1678" stroke="#121413" stroke-width="2.6" stroke-linecap="butt" />
<line x1="386.15" y1="1683.5" x2="386.15" y2="1672.5" stroke="#121413" stroke-width="2.6" stroke-linecap="butt" />
<line x1="433.57" y1="1683.5" x2="433.57" y2="1678" stroke="#121413" stroke-width="2.6" stroke-linecap="butt" />
<line x1="481" y1="1683.5" x2="481" y2="1672.5" stroke="#121413" stroke-width="2.6" stroke-linecap="butt" />
<text x="88.3" y="1691.8" font-size="25" fill="#121413" text-anchor="end" >0</text>
<text x="88.3" y="1570" font-size="25" fill="#121413" text-anchor="end" >20</text>
<text x="88.3" y="1448.2" font-size="25" fill="#121413" text-anchor="end" >40</text>
<text x="88.3" y="1326.4" font-size="25" fill="#121413" text-anchor="end" >60</text>
<text x="88.3" y="1204.6" font-size="25" fill="#121413" text-anchor="end" >80</text>
<text x="88.3" y="1082.8" font-size="25" fill="#121413" text-anchor="end" >100</text>
<text x="101.6" y="1717.2" font-size="25" fill="#121413" text-anchor="middle" >30</text>
<text x="196.45" y="1717.2" font-size="25" fill="#121413" text-anchor="middle" >40</text>
<text x="291.3" y="1717.2" font-size="25" fill="#121413" text-anchor="middle" >50</text>
<text x="386.15" y="1717.2" font-size="25" fill="#121413" text-anchor="middle" >60</text>
<text x="481" y="1717.2" font-size="25" fill="#121413" text-anchor="middle" >70</text>
<text transform="translate(34.3,1364.2) rotate(-90)" font-size="31.5" fill="#121413" text-anchor="middle">Boundary (%)</text>
<text x="244" y="1758.2" font-size="38.5" font-weight="bold" fill="#121413">s<tspan font-size="27.8" dy="10.8">20,w</tspan></text>
<polyline points="95,1637.5 212,1631 209.9,1619.3 210.6,1608.3 212.8,1598 212.8,1587 212.8,1576 213,1565 213,1554 213.5,1543 215,1532 216.5,1521 216.5,1510 217.5,1499 218.5,1488 219,1477 219.4,1466 220.1,1455 220.85,1444 219.4,1433 217.9,1422 217.9,1411.7 217.2,1400 217.9,1389.7 217.9,1378.7 217.9,1367 217.2,1356.7 217.2,1345.7 217.9,1334.7 218.65,1323.7 220.1,1312.7 220.85,1301.7 220.1,1290.7 220.1,1279.7 219.4,1268.7 218.65,1257.7 216.5,1246.7 210.6,1235.7 209.1,1224.7 205.5,1213.7 206.2,1202.7 209,1192 212,1181 213.5,1170 214,1159 213.5,1148 214.4,1137.5 216.25,1127.2 204.2,1115.6 200.8,1104.4" fill="none" stroke="#121413" stroke-width="2.4" stroke-linecap="round" stroke-linejoin="round" clip-path="url(#clipD)"/>
<g clip-path="url(#clipD)">
<rect x="91.4" y="1633.9" width="7.2" height="7.2" fill="#fff" stroke="#121413" stroke-width="2.9"/>
<rect x="208.4" y="1627.4" width="7.2" height="7.2" fill="#fff" stroke="#121413" stroke-width="2.9"/>
<rect x="206.3" y="1615.7" width="7.2" height="7.2" fill="#fff" stroke="#121413" stroke-width="2.9"/>
<rect x="207" y="1604.7" width="7.2" height="7.2" fill="#fff" stroke="#121413" stroke-width="2.9"/>
<rect x="209.2" y="1594.4" width="7.2" height="7.2" fill="#fff" stroke="#121413" stroke-width="2.9"/>
<rect x="209.2" y="1583.4" width="7.2" height="7.2" fill="#fff" stroke="#121413" stroke-width="2.9"/>
<rect x="209.2" y="1572.4" width="7.2" height="7.2" fill="#fff" stroke="#121413" stroke-width="2.9"/>
<rect x="209.4" y="1561.4" width="7.2" height="7.2" fill="#fff" stroke="#121413" stroke-width="2.9"/>
<rect x="209.4" y="1550.4" width="7.2" height="7.2" fill="#fff" stroke="#121413" stroke-width="2.9"/>
<rect x="209.9" y="1539.4" width="7.2" height="7.2" fill="#fff" stroke="#121413" stroke-width="2.9"/>
<rect x="211.4" y="1528.4" width="7.2" height="7.2" fill="#fff" stroke="#121413" stroke-width="2.9"/>
<rect x="212.9" y="1517.4" width="7.2" height="7.2" fill="#fff" stroke="#121413" stroke-width="2.9"/>
<rect x="212.9" y="1506.4" width="7.2" height="7.2" fill="#fff" stroke="#121413" stroke-width="2.9"/>
<rect x="213.9" y="1495.4" width="7.2" height="7.2" fill="#fff" stroke="#121413" stroke-width="2.9"/>
<rect x="214.9" y="1484.4" width="7.2" height="7.2" fill="#fff" stroke="#121413" stroke-width="2.9"/>
<rect x="215.4" y="1473.4" width="7.2" height="7.2" fill="#fff" stroke="#121413" stroke-width="2.9"/>
<rect x="215.8" y="1462.4" width="7.2" height="7.2" fill="#fff" stroke="#121413" stroke-width="2.9"/>
<rect x="216.5" y="1451.4" width="7.2" height="7.2" fill="#fff" stroke="#121413" stroke-width="2.9"/>
<rect x="217.25" y="1440.4" width="7.2" height="7.2" fill="#fff" stroke="#121413" stroke-width="2.9"/>
<rect x="215.8" y="1429.4" width="7.2" height="7.2" fill="#fff" stroke="#121413" stroke-width="2.9"/>
<rect x="214.3" y="1418.4" width="7.2" height="7.2" fill="#fff" stroke="#121413" stroke-width="2.9"/>
<rect x="214.3" y="1408.1" width="7.2" height="7.2" fill="#fff" stroke="#121413" stroke-width="2.9"/>
<rect x="213.6" y="1396.4" width="7.2" height="7.2" fill="#fff" stroke="#121413" stroke-width="2.9"/>
<rect x="214.3" y="1386.1" width="7.2" height="7.2" fill="#fff" stroke="#121413" stroke-width="2.9"/>
<rect x="214.3" y="1375.1" width="7.2" height="7.2" fill="#fff" stroke="#121413" stroke-width="2.9"/>
<rect x="214.3" y="1363.4" width="7.2" height="7.2" fill="#fff" stroke="#121413" stroke-width="2.9"/>
<rect x="213.6" y="1353.1" width="7.2" height="7.2" fill="#fff" stroke="#121413" stroke-width="2.9"/>
<rect x="213.6" y="1342.1" width="7.2" height="7.2" fill="#fff" stroke="#121413" stroke-width="2.9"/>
<rect x="214.3" y="1331.1" width="7.2" height="7.2" fill="#fff" stroke="#121413" stroke-width="2.9"/>
<rect x="215.05" y="1320.1" width="7.2" height="7.2" fill="#fff" stroke="#121413" stroke-width="2.9"/>
<rect x="216.5" y="1309.1" width="7.2" height="7.2" fill="#fff" stroke="#121413" stroke-width="2.9"/>
<rect x="217.25" y="1298.1" width="7.2" height="7.2" fill="#fff" stroke="#121413" stroke-width="2.9"/>
<rect x="216.5" y="1287.1" width="7.2" height="7.2" fill="#fff" stroke="#121413" stroke-width="2.9"/>
<rect x="216.5" y="1276.1" width="7.2" height="7.2" fill="#fff" stroke="#121413" stroke-width="2.9"/>
<rect x="215.8" y="1265.1" width="7.2" height="7.2" fill="#fff" stroke="#121413" stroke-width="2.9"/>
<rect x="215.05" y="1254.1" width="7.2" height="7.2" fill="#fff" stroke="#121413" stroke-width="2.9"/>
<rect x="212.9" y="1243.1" width="7.2" height="7.2" fill="#fff" stroke="#121413" stroke-width="2.9"/>
<rect x="207" y="1232.1" width="7.2" height="7.2" fill="#fff" stroke="#121413" stroke-width="2.9"/>
<rect x="205.5" y="1221.1" width="7.2" height="7.2" fill="#fff" stroke="#121413" stroke-width="2.9"/>
<rect x="201.9" y="1210.1" width="7.2" height="7.2" fill="#fff" stroke="#121413" stroke-width="2.9"/>
<rect x="202.6" y="1199.1" width="7.2" height="7.2" fill="#fff" stroke="#121413" stroke-width="2.9"/>
<rect x="205.4" y="1188.4" width="7.2" height="7.2" fill="#fff" stroke="#121413" stroke-width="2.9"/>
<rect x="208.4" y="1177.4" width="7.2" height="7.2" fill="#fff" stroke="#121413" stroke-width="2.9"/>
<rect x="209.9" y="1166.4" width="7.2" height="7.2" fill="#fff" stroke="#121413" stroke-width="2.9"/>
<rect x="210.4" y="1155.4" width="7.2" height="7.2" fill="#fff" stroke="#121413" stroke-width="2.9"/>
<rect x="209.9" y="1144.4" width="7.2" height="7.2" fill="#fff" stroke="#121413" stroke-width="2.9"/>
<rect x="210.8" y="1133.9" width="7.2" height="7.2" fill="#fff" stroke="#121413" stroke-width="2.9"/>
<rect x="212.65" y="1123.6" width="7.2" height="7.2" fill="#fff" stroke="#121413" stroke-width="2.9"/>
<rect x="200.6" y="1112" width="7.2" height="7.2" fill="#fff" stroke="#121413" stroke-width="2.9"/>
<rect x="197.2" y="1100.8" width="7.2" height="7.2" fill="#fff" stroke="#121413" stroke-width="2.9"/>
</g>
<polyline points="95,1638.5 355.2,1631.7 363.6,1617.9 364,1609.3 363.6,1598.3 368.7,1587.4 373.4,1576.4 377,1565.4 373.8,1554.5 374.2,1543.5 378.9,1532.5 379.3,1521.5 382.4,1510.6 386.8,1499.6 386.4,1488.6 390.5,1477.6 389.3,1466.7 394.8,1456.1 396.8,1445.1 402.6,1434.2 395.6,1423.2 399.9,1412.2 402.6,1401.2 397.6,1390.3 399.9,1379.3 402.6,1368.3 407.7,1357.4 409.3,1346.1 417.9,1335.1 419.1,1324.1 424.6,1313.6 419.5,1302.6 419.5,1291.6 423.4,1280.6 428.5,1269.3 428.5,1258.7 427,1247.7 431.5,1236.4 425.8,1226 438.75,1214.4 438.4,1203.8 446.2,1192.9 449.3,1181.9 463,1170.5 469.3,1159.6 495,1138" fill="none" stroke="#121413" stroke-width="2.4" stroke-linecap="round" stroke-linejoin="round" clip-path="url(#clipD)"/>
<g clip-path="url(#clipD)">
<rect x="89.4" y="1632.9" width="11.2" height="11.2" fill="#121413"/>
<rect x="349.6" y="1626.1" width="11.2" height="11.2" fill="#121413"/>
<rect x="358" y="1612.3" width="11.2" height="11.2" fill="#121413"/>
<rect x="358.4" y="1603.7" width="11.2" height="11.2" fill="#121413"/>
<rect x="358" y="1592.7" width="11.2" height="11.2" fill="#121413"/>
<rect x="363.1" y="1581.8" width="11.2" height="11.2" fill="#121413"/>
<rect x="367.8" y="1570.8" width="11.2" height="11.2" fill="#121413"/>
<rect x="371.4" y="1559.8" width="11.2" height="11.2" fill="#121413"/>
<rect x="368.2" y="1548.9" width="11.2" height="11.2" fill="#121413"/>
<rect x="368.6" y="1537.9" width="11.2" height="11.2" fill="#121413"/>
<rect x="373.3" y="1526.9" width="11.2" height="11.2" fill="#121413"/>
<rect x="373.7" y="1515.9" width="11.2" height="11.2" fill="#121413"/>
<rect x="376.8" y="1505" width="11.2" height="11.2" fill="#121413"/>
<rect x="381.2" y="1494" width="11.2" height="11.2" fill="#121413"/>
<rect x="380.8" y="1483" width="11.2" height="11.2" fill="#121413"/>
<rect x="384.9" y="1472" width="11.2" height="11.2" fill="#121413"/>
<rect x="383.7" y="1461.1" width="11.2" height="11.2" fill="#121413"/>
<rect x="389.2" y="1450.5" width="11.2" height="11.2" fill="#121413"/>
<rect x="391.2" y="1439.5" width="11.2" height="11.2" fill="#121413"/>
<rect x="397" y="1428.6" width="11.2" height="11.2" fill="#121413"/>
<rect x="390" y="1417.6" width="11.2" height="11.2" fill="#121413"/>
<rect x="394.3" y="1406.6" width="11.2" height="11.2" fill="#121413"/>
<rect x="397" y="1395.6" width="11.2" height="11.2" fill="#121413"/>
<rect x="392" y="1384.7" width="11.2" height="11.2" fill="#121413"/>
<rect x="394.3" y="1373.7" width="11.2" height="11.2" fill="#121413"/>
<rect x="397" y="1362.7" width="11.2" height="11.2" fill="#121413"/>
<rect x="402.1" y="1351.8" width="11.2" height="11.2" fill="#121413"/>
<rect x="403.7" y="1340.5" width="11.2" height="11.2" fill="#121413"/>
<rect x="412.3" y="1329.5" width="11.2" height="11.2" fill="#121413"/>
<rect x="413.5" y="1318.5" width="11.2" height="11.2" fill="#121413"/>
<rect x="419" y="1308" width="11.2" height="11.2" fill="#121413"/>
<rect x="413.9" y="1297" width="11.2" height="11.2" fill="#121413"/>
<rect x="413.9" y="1286" width="11.2" height="11.2" fill="#121413"/>
<rect x="417.8" y="1275" width="11.2" height="11.2" fill="#121413"/>
<rect x="422.9" y="1263.7" width="11.2" height="11.2" fill="#121413"/>
<rect x="422.9" y="1253.1" width="11.2" height="11.2" fill="#121413"/>
<rect x="421.4" y="1242.1" width="11.2" height="11.2" fill="#121413"/>
<rect x="425.9" y="1230.8" width="11.2" height="11.2" fill="#121413"/>
<rect x="420.2" y="1220.4" width="11.2" height="11.2" fill="#121413"/>
<rect x="433.15" y="1208.8" width="11.2" height="11.2" fill="#121413"/>
<rect x="432.8" y="1198.2" width="11.2" height="11.2" fill="#121413"/>
<rect x="440.6" y="1187.3" width="11.2" height="11.2" fill="#121413"/>
<rect x="443.7" y="1176.3" width="11.2" height="11.2" fill="#121413"/>
<rect x="457.4" y="1164.9" width="11.2" height="11.2" fill="#121413"/>
<rect x="463.7" y="1154" width="11.2" height="11.2" fill="#121413"/>
<rect x="489.4" y="1132.4" width="11.2" height="11.2" fill="#121413"/>
</g>
<polyline points="95,1637 213.4,1631.7 273.2,1620 280.6,1609.3 282.9,1598.3 286,1587.4 288,1576 295.8,1565.4 299,1554.1 303.3,1543.5 310,1532.5 310.7,1521.5 313.9,1510.6 316.2,1499.6 317.4,1489 321.5,1477.6 324.7,1466.7 323.9,1455.7 324.7,1444.7 327.8,1434.2 327.8,1423.2 329.8,1412.2 331.7,1401.2 335.25,1390.3 337.6,1379.3 341.9,1368.3 345.2,1357.2 353.7,1346.1 356,1335.1 360,1324.1 362.7,1313.6 360,1302.6 361.9,1291.6 360,1280.6 364.7,1269.7 373.7,1258.7 374.8,1248.1 375.8,1236.5 378,1226 380.75,1214.4 381.5,1203.8 385.8,1192.9 391.7,1181.9 392.1,1170.5 407.8,1160 407,1148.6 449.7,1137.6 460.7,1126.6 477.5,1115.7" fill="none" stroke="#434EA8" stroke-width="2.4" stroke-linecap="round" stroke-linejoin="round" clip-path="url(#clipD)"/>
<g clip-path="url(#clipD)">
<circle cx="95" cy="1637" r="6.8" fill="#434EA8"/>
<circle cx="213.4" cy="1631.7" r="6.8" fill="#434EA8"/>
<circle cx="273.2" cy="1620" r="6.8" fill="#434EA8"/>
<circle cx="280.6" cy="1609.3" r="6.8" fill="#434EA8"/>
<circle cx="282.9" cy="1598.3" r="6.8" fill="#434EA8"/>
<circle cx="286" cy="1587.4" r="6.8" fill="#434EA8"/>
<circle cx="288" cy="1576" r="6.8" fill="#434EA8"/>
<circle cx="295.8" cy="1565.4" r="6.8" fill="#434EA8"/>
<circle cx="299" cy="1554.1" r="6.8" fill="#434EA8"/>
<circle cx="303.3" cy="1543.5" r="6.8" fill="#434EA8"/>
<circle cx="310" cy="1532.5" r="6.8" fill="#434EA8"/>
<circle cx="310.7" cy="1521.5" r="6.8" fill="#434EA8"/>
<circle cx="313.9" cy="1510.6" r="6.8" fill="#434EA8"/>
<circle cx="316.2" cy="1499.6" r="6.8" fill="#434EA8"/>
<circle cx="317.4" cy="1489" r="6.8" fill="#434EA8"/>
<circle cx="321.5" cy="1477.6" r="6.8" fill="#434EA8"/>
<circle cx="324.7" cy="1466.7" r="6.8" fill="#434EA8"/>
<circle cx="323.9" cy="1455.7" r="6.8" fill="#434EA8"/>
<circle cx="324.7" cy="1444.7" r="6.8" fill="#434EA8"/>
<circle cx="327.8" cy="1434.2" r="6.8" fill="#434EA8"/>
<circle cx="327.8" cy="1423.2" r="6.8" fill="#434EA8"/>
<circle cx="329.8" cy="1412.2" r="6.8" fill="#434EA8"/>
<circle cx="331.7" cy="1401.2" r="6.8" fill="#434EA8"/>
<circle cx="335.25" cy="1390.3" r="6.8" fill="#434EA8"/>
<circle cx="337.6" cy="1379.3" r="6.8" fill="#434EA8"/>
<circle cx="341.9" cy="1368.3" r="6.8" fill="#434EA8"/>
<circle cx="345.2" cy="1357.2" r="6.8" fill="#434EA8"/>
<circle cx="353.7" cy="1346.1" r="6.8" fill="#434EA8"/>
<circle cx="356" cy="1335.1" r="6.8" fill="#434EA8"/>
<circle cx="360" cy="1324.1" r="6.8" fill="#434EA8"/>
<circle cx="362.7" cy="1313.6" r="6.8" fill="#434EA8"/>
<circle cx="360" cy="1302.6" r="6.8" fill="#434EA8"/>
<circle cx="361.9" cy="1291.6" r="6.8" fill="#434EA8"/>
<circle cx="360" cy="1280.6" r="6.8" fill="#434EA8"/>
<circle cx="364.7" cy="1269.7" r="6.8" fill="#434EA8"/>
<circle cx="373.7" cy="1258.7" r="6.8" fill="#434EA8"/>
<circle cx="374.8" cy="1248.1" r="6.8" fill="#434EA8"/>
<circle cx="375.8" cy="1236.5" r="6.8" fill="#434EA8"/>
<circle cx="378" cy="1226" r="6.8" fill="#434EA8"/>
<circle cx="380.75" cy="1214.4" r="6.8" fill="#434EA8"/>
<circle cx="381.5" cy="1203.8" r="6.8" fill="#434EA8"/>
<circle cx="385.8" cy="1192.9" r="6.8" fill="#434EA8"/>
<circle cx="391.7" cy="1181.9" r="6.8" fill="#434EA8"/>
<circle cx="392.1" cy="1170.5" r="6.8" fill="#434EA8"/>
<circle cx="407.8" cy="1160" r="6.8" fill="#434EA8"/>
<circle cx="407" cy="1148.6" r="6.8" fill="#434EA8"/>
<circle cx="449.7" cy="1137.6" r="6.8" fill="#434EA8"/>
<circle cx="460.7" cy="1126.6" r="6.8" fill="#434EA8"/>
<circle cx="477.5" cy="1115.7" r="6.8" fill="#434EA8"/>
</g>
<polyline points="95,1626 315.9,1618.6 327.2,1608.5 328,1597.6 331.5,1586.6 338.6,1575.6 330.3,1564.6 344,1553.7 343.7,1542.7 351.9,1531.7 361.3,1520.8 360.5,1509.8 363.6,1498.8 370.8,1488 378,1477.3 375.2,1466.3 373.3,1455.7 378,1444.3 382.3,1433.4 381.9,1422.4 381.9,1411.4 389.7,1401.2 394.4,1390.3 396.8,1379.7 399.1,1368.7 399.5,1357 403,1344.9 407,1334 409.3,1323 417.6,1312 422.3,1301 430.1,1290 421.9,1278.7 420.7,1268.1 416.4,1257.5 428.5,1246.2 431.3,1235 446.2,1224.6 446.6,1213.6 441.5,1202.7 454.4,1190.9 463,1180 474.8,1169" fill="none" stroke="#DA2A19" stroke-width="2.4" stroke-linecap="round" stroke-linejoin="round" clip-path="url(#clipD)"/>
<g clip-path="url(#clipD)">
<polygon points="95,1619.15 103.25,1632.85 86.75,1632.85" fill="#DA2A19"/>
<polygon points="315.9,1611.75 324.15,1625.45 307.65,1625.45" fill="#DA2A19"/>
<polygon points="327.2,1601.65 335.45,1615.35 318.95,1615.35" fill="#DA2A19"/>
<polygon points="328,1590.75 336.25,1604.45 319.75,1604.45" fill="#DA2A19"/>
<polygon points="331.5,1579.75 339.75,1593.45 323.25,1593.45" fill="#DA2A19"/>
<polygon points="338.6,1568.75 346.85,1582.45 330.35,1582.45" fill="#DA2A19"/>
<polygon points="330.3,1557.75 338.55,1571.45 322.05,1571.45" fill="#DA2A19"/>
<polygon points="344,1546.85 352.25,1560.55 335.75,1560.55" fill="#DA2A19"/>
<polygon points="343.7,1535.85 351.95,1549.55 335.45,1549.55" fill="#DA2A19"/>
<polygon points="351.9,1524.85 360.15,1538.55 343.65,1538.55" fill="#DA2A19"/>
<polygon points="361.3,1513.95 369.55,1527.65 353.05,1527.65" fill="#DA2A19"/>
<polygon points="360.5,1502.95 368.75,1516.65 352.25,1516.65" fill="#DA2A19"/>
<polygon points="363.6,1491.95 371.85,1505.65 355.35,1505.65" fill="#DA2A19"/>
<polygon points="370.8,1481.15 379.05,1494.85 362.55,1494.85" fill="#DA2A19"/>
<polygon points="378,1470.45 386.25,1484.15 369.75,1484.15" fill="#DA2A19"/>
<polygon points="375.2,1459.45 383.45,1473.15 366.95,1473.15" fill="#DA2A19"/>
<polygon points="373.3,1448.85 381.55,1462.55 365.05,1462.55" fill="#DA2A19"/>
<polygon points="378,1437.45 386.25,1451.15 369.75,1451.15" fill="#DA2A19"/>
<polygon points="382.3,1426.55 390.55,1440.25 374.05,1440.25" fill="#DA2A19"/>
<polygon points="381.9,1415.55 390.15,1429.25 373.65,1429.25" fill="#DA2A19"/>
<polygon points="381.9,1404.55 390.15,1418.25 373.65,1418.25" fill="#DA2A19"/>
<polygon points="389.7,1394.35 397.95,1408.05 381.45,1408.05" fill="#DA2A19"/>
<polygon points="394.4,1383.45 402.65,1397.15 386.15,1397.15" fill="#DA2A19"/>
<polygon points="396.8,1372.85 405.05,1386.55 388.55,1386.55" fill="#DA2A19"/>
<polygon points="399.1,1361.85 407.35,1375.55 390.85,1375.55" fill="#DA2A19"/>
<polygon points="399.5,1350.15 407.75,1363.85 391.25,1363.85" fill="#DA2A19"/>
<polygon points="403,1338.05 411.25,1351.75 394.75,1351.75" fill="#DA2A19"/>
<polygon points="407,1327.15 415.25,1340.85 398.75,1340.85" fill="#DA2A19"/>
<polygon points="409.3,1316.15 417.55,1329.85 401.05,1329.85" fill="#DA2A19"/>
<polygon points="417.6,1305.15 425.85,1318.85 409.35,1318.85" fill="#DA2A19"/>
<polygon points="422.3,1294.15 430.55,1307.85 414.05,1307.85" fill="#DA2A19"/>
<polygon points="430.1,1283.15 438.35,1296.85 421.85,1296.85" fill="#DA2A19"/>
<polygon points="421.9,1271.85 430.15,1285.55 413.65,1285.55" fill="#DA2A19"/>
<polygon points="420.7,1261.25 428.95,1274.95 412.45,1274.95" fill="#DA2A19"/>
<polygon points="416.4,1250.65 424.65,1264.35 408.15,1264.35" fill="#DA2A19"/>
<polygon points="428.5,1239.35 436.75,1253.05 420.25,1253.05" fill="#DA2A19"/>
<polygon points="431.3,1228.15 439.55,1241.85 423.05,1241.85" fill="#DA2A19"/>
<polygon points="446.2,1217.75 454.45,1231.45 437.95,1231.45" fill="#DA2A19"/>
<polygon points="446.6,1206.75 454.85,1220.45 438.35,1220.45" fill="#DA2A19"/>
<polygon points="441.5,1195.85 449.75,1209.55 433.25,1209.55" fill="#DA2A19"/>
<polygon points="454.4,1184.05 462.65,1197.75 446.15,1197.75" fill="#DA2A19"/>
<polygon points="463,1173.15 471.25,1186.85 454.75,1186.85" fill="#DA2A19"/>
<polygon points="474.8,1162.15 483.05,1175.85 466.55,1175.85" fill="#DA2A19"/>
</g>
<polyline points="95,1636.8 205.5,1632 201,1620 199.6,1608.3 201.8,1598 201,1587 198.9,1576 201.8,1565 201.8,1554 201,1543 201.8,1532 202.5,1521 202.5,1510 204,1499.8 202.5,1488.8 201.8,1477.8 202.5,1466.8 201.8,1455.8 202.5,1444 202.5,1433.8 202.5,1422 204.7,1411 206.2,1400 208.4,1389 208.4,1378 206.9,1367 208.4,1356 210.6,1345 214.25,1334 217.2,1323 217.2,1312.7 212.8,1301.7 211.3,1290.7 210.6,1279.7 210.6,1268 211.3,1257.7 212,1246.7 213.5,1235.7 215,1225.5 216.5,1214.5 220.85,1203.5 220.85,1192.5 219.7,1181.5 220.6,1170.3 221,1159.4 218.75,1148.75 223.1,1137.8 229.4,1126.9 204.4,1115.6 196.9,1104" fill="none" stroke="#434EA8" stroke-width="2.4" stroke-linecap="round" stroke-linejoin="round" clip-path="url(#clipD)"/>
<g clip-path="url(#clipD)">
<circle cx="95" cy="1636.8" r="4.55" fill="#fff" stroke="#434EA8" stroke-width="2.9"/>
<circle cx="205.5" cy="1632" r="4.55" fill="#fff" stroke="#434EA8" stroke-width="2.9"/>
<circle cx="201" cy="1620" r="4.55" fill="#fff" stroke="#434EA8" stroke-width="2.9"/>
<circle cx="199.6" cy="1608.3" r="4.55" fill="#fff" stroke="#434EA8" stroke-width="2.9"/>
<circle cx="201.8" cy="1598" r="4.55" fill="#fff" stroke="#434EA8" stroke-width="2.9"/>
<circle cx="201" cy="1587" r="4.55" fill="#fff" stroke="#434EA8" stroke-width="2.9"/>
<circle cx="198.9" cy="1576" r="4.55" fill="#fff" stroke="#434EA8" stroke-width="2.9"/>
<circle cx="201.8" cy="1565" r="4.55" fill="#fff" stroke="#434EA8" stroke-width="2.9"/>
<circle cx="201.8" cy="1554" r="4.55" fill="#fff" stroke="#434EA8" stroke-width="2.9"/>
<circle cx="201" cy="1543" r="4.55" fill="#fff" stroke="#434EA8" stroke-width="2.9"/>
<circle cx="201.8" cy="1532" r="4.55" fill="#fff" stroke="#434EA8" stroke-width="2.9"/>
<circle cx="202.5" cy="1521" r="4.55" fill="#fff" stroke="#434EA8" stroke-width="2.9"/>
<circle cx="202.5" cy="1510" r="4.55" fill="#fff" stroke="#434EA8" stroke-width="2.9"/>
<circle cx="204" cy="1499.8" r="4.55" fill="#fff" stroke="#434EA8" stroke-width="2.9"/>
<circle cx="202.5" cy="1488.8" r="4.55" fill="#fff" stroke="#434EA8" stroke-width="2.9"/>
<circle cx="201.8" cy="1477.8" r="4.55" fill="#fff" stroke="#434EA8" stroke-width="2.9"/>
<circle cx="202.5" cy="1466.8" r="4.55" fill="#fff" stroke="#434EA8" stroke-width="2.9"/>
<circle cx="201.8" cy="1455.8" r="4.55" fill="#fff" stroke="#434EA8" stroke-width="2.9"/>
<circle cx="202.5" cy="1444" r="4.55" fill="#fff" stroke="#434EA8" stroke-width="2.9"/>
<circle cx="202.5" cy="1433.8" r="4.55" fill="#fff" stroke="#434EA8" stroke-width="2.9"/>
<circle cx="202.5" cy="1422" r="4.55" fill="#fff" stroke="#434EA8" stroke-width="2.9"/>
<circle cx="204.7" cy="1411" r="4.55" fill="#fff" stroke="#434EA8" stroke-width="2.9"/>
<circle cx="206.2" cy="1400" r="4.55" fill="#fff" stroke="#434EA8" stroke-width="2.9"/>
<circle cx="208.4" cy="1389" r="4.55" fill="#fff" stroke="#434EA8" stroke-width="2.9"/>
<circle cx="208.4" cy="1378" r="4.55" fill="#fff" stroke="#434EA8" stroke-width="2.9"/>
<circle cx="206.9" cy="1367" r="4.55" fill="#fff" stroke="#434EA8" stroke-width="2.9"/>
<circle cx="208.4" cy="1356" r="4.55" fill="#fff" stroke="#434EA8" stroke-width="2.9"/>
<circle cx="210.6" cy="1345" r="4.55" fill="#fff" stroke="#434EA8" stroke-width="2.9"/>
<circle cx="214.25" cy="1334" r="4.55" fill="#fff" stroke="#434EA8" stroke-width="2.9"/>
<circle cx="217.2" cy="1323" r="4.55" fill="#fff" stroke="#434EA8" stroke-width="2.9"/>
<circle cx="217.2" cy="1312.7" r="4.55" fill="#fff" stroke="#434EA8" stroke-width="2.9"/>
<circle cx="212.8" cy="1301.7" r="4.55" fill="#fff" stroke="#434EA8" stroke-width="2.9"/>
<circle cx="211.3" cy="1290.7" r="4.55" fill="#fff" stroke="#434EA8" stroke-width="2.9"/>
<circle cx="210.6" cy="1279.7" r="4.55" fill="#fff" stroke="#434EA8" stroke-width="2.9"/>
<circle cx="210.6" cy="1268" r="4.55" fill="#fff" stroke="#434EA8" stroke-width="2.9"/>
<circle cx="211.3" cy="1257.7" r="4.55" fill="#fff" stroke="#434EA8" stroke-width="2.9"/>
<circle cx="212" cy="1246.7" r="4.55" fill="#fff" stroke="#434EA8" stroke-width="2.9"/>
<circle cx="213.5" cy="1235.7" r="4.55" fill="#fff" stroke="#434EA8" stroke-width="2.9"/>
<circle cx="215" cy="1225.5" r="4.55" fill="#fff" stroke="#434EA8" stroke-width="2.9"/>
<circle cx="216.5" cy="1214.5" r="4.55" fill="#fff" stroke="#434EA8" stroke-width="2.9"/>
<circle cx="220.85" cy="1203.5" r="4.55" fill="#fff" stroke="#434EA8" stroke-width="2.9"/>
<circle cx="220.85" cy="1192.5" r="4.55" fill="#fff" stroke="#434EA8" stroke-width="2.9"/>
<circle cx="219.7" cy="1181.5" r="4.55" fill="#fff" stroke="#434EA8" stroke-width="2.9"/>
<circle cx="220.6" cy="1170.3" r="4.55" fill="#fff" stroke="#434EA8" stroke-width="2.9"/>
<circle cx="221" cy="1159.4" r="4.55" fill="#fff" stroke="#434EA8" stroke-width="2.9"/>
<circle cx="218.75" cy="1148.75" r="4.55" fill="#fff" stroke="#434EA8" stroke-width="2.9"/>
<circle cx="223.1" cy="1137.8" r="4.55" fill="#fff" stroke="#434EA8" stroke-width="2.9"/>
<circle cx="229.4" cy="1126.9" r="4.55" fill="#fff" stroke="#434EA8" stroke-width="2.9"/>
<circle cx="204.4" cy="1115.6" r="4.55" fill="#fff" stroke="#434EA8" stroke-width="2.9"/>
<circle cx="196.9" cy="1104" r="4.55" fill="#fff" stroke="#434EA8" stroke-width="2.9"/>
</g>
<polyline points="95,1633.8 143.9,1628.8 200.2,1619.3 200.3,1609 206.2,1598 204,1587 205.5,1576 208.4,1565 209.1,1554 206.9,1543 206.9,1532 207.65,1521 209.9,1510 212,1499 214.25,1488 214.25,1477 212,1466 210.6,1455 210.6,1444 207.65,1433 209.9,1421.9 209.1,1411.7 208.4,1400.7 208.4,1389.7 209.9,1378.7 212,1367.7 212.8,1356.7 212.8,1345.7 212,1334.7 211.3,1323.7 213.5,1313.4 215,1302.4 216.5,1291.4 215.7,1280.4 214,1269.4 214.25,1258.4 215.4,1247.4 216.5,1236.5 218.65,1225.5 217.9,1214.5 215,1203.5 211.3,1192.5 208.3,1181.4 210,1169.7 208.4,1158.75 211.9,1148 205.6,1137.5 197.8,1126 195.3,1115 190.9,1103.75" fill="none" stroke="#DA2A19" stroke-width="2.4" stroke-linecap="round" stroke-linejoin="round" clip-path="url(#clipD)"/>
<g clip-path="url(#clipD)">
<polygon points="95,1629.5 99.8,1638.1 90.2,1638.1" fill="#fff" stroke="#DA2A19" stroke-width="2.9" stroke-linejoin="miter"/>
<polygon points="143.9,1624.5 148.7,1633.1 139.1,1633.1" fill="#fff" stroke="#DA2A19" stroke-width="2.9" stroke-linejoin="miter"/>
<polygon points="200.2,1615 205,1623.6 195.4,1623.6" fill="#fff" stroke="#DA2A19" stroke-width="2.9" stroke-linejoin="miter"/>
<polygon points="200.3,1604.7 205.1,1613.3 195.5,1613.3" fill="#fff" stroke="#DA2A19" stroke-width="2.9" stroke-linejoin="miter"/>
<polygon points="206.2,1593.7 211,1602.3 201.4,1602.3" fill="#fff" stroke="#DA2A19" stroke-width="2.9" stroke-linejoin="miter"/>
<polygon points="204,1582.7 208.8,1591.3 199.2,1591.3" fill="#fff" stroke="#DA2A19" stroke-width="2.9" stroke-linejoin="miter"/>
<polygon points="205.5,1571.7 210.3,1580.3 200.7,1580.3" fill="#fff" stroke="#DA2A19" stroke-width="2.9" stroke-linejoin="miter"/>
<polygon points="208.4,1560.7 213.2,1569.3 203.6,1569.3" fill="#fff" stroke="#DA2A19" stroke-width="2.9" stroke-linejoin="miter"/>
<polygon points="209.1,1549.7 213.9,1558.3 204.3,1558.3" fill="#fff" stroke="#DA2A19" stroke-width="2.9" stroke-linejoin="miter"/>
<polygon points="206.9,1538.7 211.7,1547.3 202.1,1547.3" fill="#fff" stroke="#DA2A19" stroke-width="2.9" stroke-linejoin="miter"/>
<polygon points="206.9,1527.7 211.7,1536.3 202.1,1536.3" fill="#fff" stroke="#DA2A19" stroke-width="2.9" stroke-linejoin="miter"/>
<polygon points="207.65,1516.7 212.45,1525.3 202.85,1525.3" fill="#fff" stroke="#DA2A19" stroke-width="2.9" stroke-linejoin="miter"/>
<polygon points="209.9,1505.7 214.7,1514.3 205.1,1514.3" fill="#fff" stroke="#DA2A19" stroke-width="2.9" stroke-linejoin="miter"/>
<polygon points="212,1494.7 216.8,1503.3 207.2,1503.3" fill="#fff" stroke="#DA2A19" stroke-width="2.9" stroke-linejoin="miter"/>
<polygon points="214.25,1483.7 219.05,1492.3 209.45,1492.3" fill="#fff" stroke="#DA2A19" stroke-width="2.9" stroke-linejoin="miter"/>
<polygon points="214.25,1472.7 219.05,1481.3 209.45,1481.3" fill="#fff" stroke="#DA2A19" stroke-width="2.9" stroke-linejoin="miter"/>
<polygon points="212,1461.7 216.8,1470.3 207.2,1470.3" fill="#fff" stroke="#DA2A19" stroke-width="2.9" stroke-linejoin="miter"/>
<polygon points="210.6,1450.7 215.4,1459.3 205.8,1459.3" fill="#fff" stroke="#DA2A19" stroke-width="2.9" stroke-linejoin="miter"/>
<polygon points="210.6,1439.7 215.4,1448.3 205.8,1448.3" fill="#fff" stroke="#DA2A19" stroke-width="2.9" stroke-linejoin="miter"/>
<polygon points="207.65,1428.7 212.45,1437.3 202.85,1437.3" fill="#fff" stroke="#DA2A19" stroke-width="2.9" stroke-linejoin="miter"/>
<polygon points="209.9,1417.6 214.7,1426.2 205.1,1426.2" fill="#fff" stroke="#DA2A19" stroke-width="2.9" stroke-linejoin="miter"/>
<polygon points="209.1,1407.4 213.9,1416 204.3,1416" fill="#fff" stroke="#DA2A19" stroke-width="2.9" stroke-linejoin="miter"/>
<polygon points="208.4,1396.4 213.2,1405 203.6,1405" fill="#fff" stroke="#DA2A19" stroke-width="2.9" stroke-linejoin="miter"/>
<polygon points="208.4,1385.4 213.2,1394 203.6,1394" fill="#fff" stroke="#DA2A19" stroke-width="2.9" stroke-linejoin="miter"/>
<polygon points="209.9,1374.4 214.7,1383 205.1,1383" fill="#fff" stroke="#DA2A19" stroke-width="2.9" stroke-linejoin="miter"/>
<polygon points="212,1363.4 216.8,1372 207.2,1372" fill="#fff" stroke="#DA2A19" stroke-width="2.9" stroke-linejoin="miter"/>
<polygon points="212.8,1352.4 217.6,1361 208,1361" fill="#fff" stroke="#DA2A19" stroke-width="2.9" stroke-linejoin="miter"/>
<polygon points="212.8,1341.4 217.6,1350 208,1350" fill="#fff" stroke="#DA2A19" stroke-width="2.9" stroke-linejoin="miter"/>
<polygon points="212,1330.4 216.8,1339 207.2,1339" fill="#fff" stroke="#DA2A19" stroke-width="2.9" stroke-linejoin="miter"/>
<polygon points="211.3,1319.4 216.1,1328 206.5,1328" fill="#fff" stroke="#DA2A19" stroke-width="2.9" stroke-linejoin="miter"/>
<polygon points="213.5,1309.1 218.3,1317.7 208.7,1317.7" fill="#fff" stroke="#DA2A19" stroke-width="2.9" stroke-linejoin="miter"/>
<polygon points="215,1298.1 219.8,1306.7 210.2,1306.7" fill="#fff" stroke="#DA2A19" stroke-width="2.9" stroke-linejoin="miter"/>
<polygon points="216.5,1287.1 221.3,1295.7 211.7,1295.7" fill="#fff" stroke="#DA2A19" stroke-width="2.9" stroke-linejoin="miter"/>
<polygon points="215.7,1276.1 220.5,1284.7 210.9,1284.7" fill="#fff" stroke="#DA2A19" stroke-width="2.9" stroke-linejoin="miter"/>
<polygon points="214,1265.1 218.8,1273.7 209.2,1273.7" fill="#fff" stroke="#DA2A19" stroke-width="2.9" stroke-linejoin="miter"/>
<polygon points="214.25,1254.1 219.05,1262.7 209.45,1262.7" fill="#fff" stroke="#DA2A19" stroke-width="2.9" stroke-linejoin="miter"/>
<polygon points="215.4,1243.1 220.2,1251.7 210.6,1251.7" fill="#fff" stroke="#DA2A19" stroke-width="2.9" stroke-linejoin="miter"/>
<polygon points="216.5,1232.2 221.3,1240.8 211.7,1240.8" fill="#fff" stroke="#DA2A19" stroke-width="2.9" stroke-linejoin="miter"/>
<polygon points="218.65,1221.2 223.45,1229.8 213.85,1229.8" fill="#fff" stroke="#DA2A19" stroke-width="2.9" stroke-linejoin="miter"/>
<polygon points="217.9,1210.2 222.7,1218.8 213.1,1218.8" fill="#fff" stroke="#DA2A19" stroke-width="2.9" stroke-linejoin="miter"/>
<polygon points="215,1199.2 219.8,1207.8 210.2,1207.8" fill="#fff" stroke="#DA2A19" stroke-width="2.9" stroke-linejoin="miter"/>
<polygon points="211.3,1188.2 216.1,1196.8 206.5,1196.8" fill="#fff" stroke="#DA2A19" stroke-width="2.9" stroke-linejoin="miter"/>
<polygon points="208.3,1177.1 213.1,1185.7 203.5,1185.7" fill="#fff" stroke="#DA2A19" stroke-width="2.9" stroke-linejoin="miter"/>
<polygon points="210,1165.4 214.8,1174 205.2,1174" fill="#fff" stroke="#DA2A19" stroke-width="2.9" stroke-linejoin="miter"/>
<polygon points="208.4,1154.45 213.2,1163.05 203.6,1163.05" fill="#fff" stroke="#DA2A19" stroke-width="2.9" stroke-linejoin="miter"/>
<polygon points="211.9,1143.7 216.7,1152.3 207.1,1152.3" fill="#fff" stroke="#DA2A19" stroke-width="2.9" stroke-linejoin="miter"/>
<polygon points="205.6,1133.2 210.4,1141.8 200.8,1141.8" fill="#fff" stroke="#DA2A19" stroke-width="2.9" stroke-linejoin="miter"/>
<polygon points="197.8,1121.7 202.6,1130.3 193,1130.3" fill="#fff" stroke="#DA2A19" stroke-width="2.9" stroke-linejoin="miter"/>
<polygon points="195.3,1110.7 200.1,1119.3 190.5,1119.3" fill="#fff" stroke="#DA2A19" stroke-width="2.9" stroke-linejoin="miter"/>
<polygon points="190.9,1099.45 195.7,1108.05 186.1,1108.05" fill="#fff" stroke="#DA2A19" stroke-width="2.9" stroke-linejoin="miter"/>
</g>
<text x="435.9" y="1494.8" font-size="32" fill="#121413" text-anchor="start" >TEN</text>
<text x="523.3" y="1494.8" font-size="32" fill="#121413" text-anchor="start" >1.4 mM Mg<tspan font-size="17.5" dy="-10.5">2+</tspan></text>
<line x1="423.2" y1="1542.8" x2="452.2" y2="1542.8" stroke="#121413" stroke-width="3.3" stroke-linecap="round" />
<line x1="452.2" y1="1542.8" x2="481.3" y2="1542.8" stroke="#121413" stroke-width="3.3" stroke-linecap="round" />
<line x1="516" y1="1542.8" x2="575" y2="1542.8" stroke="#121413" stroke-width="3.3" stroke-linecap="round" />
<rect x="447.5" y="1538.1" width="9.4" height="9.4" fill="#fff" stroke="#121413" stroke-width="3"/>
<rect x="537.8" y="1535" width="15.6" height="15.6" fill="#121413"/>
<text x="599.1" y="1550.3" font-size="31.5" fill="#121413" text-anchor="start" >K20me0</text>
<line x1="423.2" y1="1575.2" x2="442.9" y2="1575.2" stroke="#434EA8" stroke-width="3.3" stroke-linecap="round" />
<line x1="461.5" y1="1575.2" x2="481.3" y2="1575.2" stroke="#434EA8" stroke-width="3.3" stroke-linecap="round" />
<line x1="516" y1="1575.2" x2="575" y2="1575.2" stroke="#434EA8" stroke-width="3.3" stroke-linecap="round" />
<circle cx="452.2" cy="1575.2" r="6" fill="#fff" stroke="#434EA8" stroke-width="3.2"/>
<circle cx="545.6" cy="1575.2" r="8.2" fill="#434EA8"/>
<text x="599.1" y="1586" font-size="31.5" fill="#434EA8" text-anchor="start" >K20me1</text>
<line x1="423.2" y1="1607.5" x2="442.9" y2="1607.5" stroke="#DA2A19" stroke-width="3.3" stroke-linecap="round" />
<line x1="461.5" y1="1607.5" x2="481.3" y2="1607.5" stroke="#DA2A19" stroke-width="3.3" stroke-linecap="round" />
<line x1="516" y1="1607.5" x2="575" y2="1607.5" stroke="#DA2A19" stroke-width="3.3" stroke-linecap="round" />
<polygon points="452.2,1601.75 458.95,1613.25 445.45,1613.25" fill="#fff" stroke="#DA2A19" stroke-width="3" stroke-linejoin="miter"/>
<polygon points="545.6,1598.25 556.1,1615.75 535.1,1615.75" fill="#DA2A19"/>
<text x="599.1" y="1621.6" font-size="31.5" fill="#DA2A19" text-anchor="start" >K20me3</text>
<rect x="853.4" y="143" width="439.2" height="543" fill="none" stroke="#121413" stroke-width="3.0"/>
<line x1="853.4" y1="661.2" x2="863.4" y2="661.2" stroke="#121413" stroke-width="2.6" stroke-linecap="butt" />
<text x="840" y="669.6" font-size="23.5" fill="#121413" text-anchor="end" >40</text>
<line x1="853.4" y1="596.33" x2="858.4" y2="596.33" stroke="#121413" stroke-width="2.6" stroke-linecap="butt" />
<line x1="853.4" y1="531.45" x2="863.4" y2="531.45" stroke="#121413" stroke-width="2.6" stroke-linecap="butt" />
<text x="840" y="539.85" font-size="23.5" fill="#121413" text-anchor="end" >45</text>
<line x1="853.4" y1="466.58" x2="858.4" y2="466.58" stroke="#121413" stroke-width="2.6" stroke-linecap="butt" />
<line x1="853.4" y1="401.7" x2="863.4" y2="401.7" stroke="#121413" stroke-width="2.6" stroke-linecap="butt" />
<text x="840" y="410.1" font-size="23.5" fill="#121413" text-anchor="end" >50</text>
<line x1="853.4" y1="336.83" x2="858.4" y2="336.83" stroke="#121413" stroke-width="2.6" stroke-linecap="butt" />
<line x1="853.4" y1="271.95" x2="863.4" y2="271.95" stroke="#121413" stroke-width="2.6" stroke-linecap="butt" />
<text x="840" y="280.35" font-size="23.5" fill="#121413" text-anchor="end" >55</text>
<line x1="853.4" y1="207.08" x2="858.4" y2="207.08" stroke="#121413" stroke-width="2.6" stroke-linecap="butt" />
<text x="840" y="150.6" font-size="23.5" fill="#121413" text-anchor="end" >60</text>
<line x1="866.2" y1="686" x2="866.2" y2="675" stroke="#121413" stroke-width="2.6" stroke-linecap="butt" />
<text x="866.2" y="717.2" font-size="23.5" fill="#121413" text-anchor="middle" >0.0</text>
<line x1="919.48" y1="686" x2="919.48" y2="680.7" stroke="#121413" stroke-width="2.6" stroke-linecap="butt" />
<line x1="972.76" y1="686" x2="972.76" y2="675" stroke="#121413" stroke-width="2.6" stroke-linecap="butt" />
<text x="972.76" y="717.2" font-size="23.5" fill="#121413" text-anchor="middle" >0.4</text>
<line x1="1026.04" y1="686" x2="1026.04" y2="680.7" stroke="#121413" stroke-width="2.6" stroke-linecap="butt" />
<line x1="1079.32" y1="686" x2="1079.32" y2="675" stroke="#121413" stroke-width="2.6" stroke-linecap="butt" />
<text x="1079.32" y="717.2" font-size="23.5" fill="#121413" text-anchor="middle" >0.8</text>
<line x1="1132.6" y1="686" x2="1132.6" y2="680.7" stroke="#121413" stroke-width="2.6" stroke-linecap="butt" />
<line x1="1185.88" y1="686" x2="1185.88" y2="675" stroke="#121413" stroke-width="2.6" stroke-linecap="butt" />
<text x="1185.88" y="717.2" font-size="23.5" fill="#121413" text-anchor="middle" >1.2</text>
<line x1="1239.16" y1="686" x2="1239.16" y2="680.7" stroke="#121413" stroke-width="2.6" stroke-linecap="butt" />
<text x="1292.44" y="717.2" font-size="23.5" fill="#121413" text-anchor="middle" >1.6</text>
<text x="1006" y="766.1" font-size="28" fill="#121413" text-anchor="start" >Mg<tspan font-size="19.3" dy="-11.3">2+</tspan><tspan dy="11.3"> (mM)</tspan></text>
<text transform="translate(785.5,447.1) rotate(-90)" font-size="33.3" fill="#121413">S<tspan font-size="24.0" dx="5.5" dy="10.5">20,W</tspan></text>
<line x1="881.25" y1="200.75" x2="943.75" y2="200.75" stroke="#121413" stroke-width="3" stroke-linecap="butt" />
<rect x="906.1" y="194.35" width="12.8" height="12.8" fill="#fff" stroke="#121413" stroke-width="3"/>
<text x="951.3" y="210" font-size="27.8" fill="#121413" text-anchor="start" >K20me0</text>
<line x1="881.25" y1="235" x2="893.75" y2="235" stroke="#434EA8" stroke-width="3" stroke-linecap="round" />
<line x1="931.25" y1="235" x2="943.75" y2="235" stroke="#434EA8" stroke-width="3" stroke-linecap="round" />
<circle cx="912.5" cy="235" r="7" fill="#fff" stroke="#434EA8" stroke-width="3.4"/>
<text x="951.3" y="244.5" font-size="27.8" fill="#121413" text-anchor="start" >K20me1</text>
<line x1="881.25" y1="267.5" x2="894.25" y2="267.5" stroke="#DA2A19" stroke-width="3" stroke-linecap="round" />
<line x1="924.5" y1="267.5" x2="932.5" y2="267.5" stroke="#DA2A19" stroke-width="3" stroke-linecap="round" />
<line x1="938.75" y1="267.5" x2="938.85" y2="267.5" stroke="#DA2A19" stroke-width="3" stroke-linecap="round" />
<polygon points="912.5,261.2 920.75,275 904.25,275" fill="#fff" stroke="#DA2A19" stroke-width="3.4" stroke-linejoin="miter"/>
<text x="951.3" y="278.6" font-size="27.8" fill="#121413" text-anchor="start" >K20me3</text>
<polyline points="866.2,633.8 1000,525 1133,403.3 1186.3,311.3 1239.5,193.8" fill="none" stroke="#121413" stroke-width="3.2" stroke-linecap="butt" stroke-linejoin="miter"/>
<rect x="859.8" y="627.4" width="12.8" height="12.8" fill="#fff" stroke="#121413" stroke-width="3"/>
<rect x="993.6" y="518.6" width="12.8" height="12.8" fill="#fff" stroke="#121413" stroke-width="3"/>
<rect x="1126.6" y="396.9" width="12.8" height="12.8" fill="#fff" stroke="#121413" stroke-width="3"/>
<rect x="1179.9" y="304.9" width="12.8" height="12.8" fill="#fff" stroke="#121413" stroke-width="3"/>
<rect x="1233.1" y="187.4" width="12.8" height="12.8" fill="#fff" stroke="#121413" stroke-width="3"/>
<polyline points="866.2,648.5 1000,568.8 1133,456.3 1186.3,350.8 1239.5,308.3" fill="none" stroke="#434EA8" stroke-width="3" stroke-linecap="round" stroke-linejoin="round" stroke-dasharray="10 15.4"/>
<circle cx="866.2" cy="648.5" r="7.2" fill="#fff" stroke="#434EA8" stroke-width="3.4"/>
<circle cx="1000" cy="568.8" r="7.2" fill="#fff" stroke="#434EA8" stroke-width="3.4"/>
<circle cx="1133" cy="456.3" r="7.2" fill="#fff" stroke="#434EA8" stroke-width="3.4"/>
<circle cx="1186.3" cy="350.8" r="7.2" fill="#fff" stroke="#434EA8" stroke-width="3.4"/>
<circle cx="1239.5" cy="308.3" r="7.2" fill="#fff" stroke="#434EA8" stroke-width="3.4"/>
<polyline points="866.2,597.4 999.6,497.5 1133,375 1186.3,325 1239.5,192.5" fill="none" stroke="#DA2A19" stroke-width="3" stroke-linecap="round" stroke-linejoin="round" stroke-dasharray="12 9 1.5 10"/>
<polygon points="866.2,591.1 874.45,604.9 857.95,604.9" fill="#fff" stroke="#DA2A19" stroke-width="3.4" stroke-linejoin="miter"/>
<polygon points="999.6,491.2 1007.85,505 991.35,505" fill="#fff" stroke="#DA2A19" stroke-width="3.4" stroke-linejoin="miter"/>
<polygon points="1133,368.7 1141.25,382.5 1124.75,382.5" fill="#fff" stroke="#DA2A19" stroke-width="3.4" stroke-linejoin="miter"/>
<polygon points="1186.3,318.7 1194.55,332.5 1178.05,332.5" fill="#fff" stroke="#DA2A19" stroke-width="3.4" stroke-linejoin="miter"/>
<polygon points="1239.5,186.2 1247.75,200 1231.25,200" fill="#fff" stroke="#DA2A19" stroke-width="3.4" stroke-linejoin="miter"/>
<rect x="844.6" y="1075.9" width="444" height="571.8" fill="none" stroke="#121413" stroke-width="3.0"/>
<line x1="844.6" y1="1647.7" x2="854.6" y2="1647.7" stroke="#121413" stroke-width="2.6" stroke-linecap="butt" />
<text x="831" y="1656.1" font-size="23.5" fill="#121413" text-anchor="end" >40</text>
<line x1="844.6" y1="1586.7" x2="849.6" y2="1586.7" stroke="#121413" stroke-width="2.6" stroke-linecap="butt" />
<line x1="844.6" y1="1525.7" x2="854.6" y2="1525.7" stroke="#121413" stroke-width="2.6" stroke-linecap="butt" />
<text x="831" y="1534.1" font-size="23.5" fill="#121413" text-anchor="end" >45</text>
<line x1="844.6" y1="1464.7" x2="849.6" y2="1464.7" stroke="#121413" stroke-width="2.6" stroke-linecap="butt" />
<line x1="844.6" y1="1403.7" x2="854.6" y2="1403.7" stroke="#121413" stroke-width="2.6" stroke-linecap="butt" />
<text x="831" y="1412.1" font-size="23.5" fill="#121413" text-anchor="end" >50</text>
<line x1="844.6" y1="1342.7" x2="849.6" y2="1342.7" stroke="#121413" stroke-width="2.6" stroke-linecap="butt" />
<line x1="844.6" y1="1281.7" x2="854.6" y2="1281.7" stroke="#121413" stroke-width="2.6" stroke-linecap="butt" />
<text x="831" y="1290.1" font-size="23.5" fill="#121413" text-anchor="end" >55</text>
<line x1="844.6" y1="1220.7" x2="849.6" y2="1220.7" stroke="#121413" stroke-width="2.6" stroke-linecap="butt" />
<line x1="844.6" y1="1159.7" x2="854.6" y2="1159.7" stroke="#121413" stroke-width="2.6" stroke-linecap="butt" />
<text x="831" y="1168.1" font-size="23.5" fill="#121413" text-anchor="end" >60</text>
<line x1="844.6" y1="1098.7" x2="849.6" y2="1098.7" stroke="#121413" stroke-width="2.6" stroke-linecap="butt" />
<line x1="857.8" y1="1647.7" x2="857.8" y2="1636.7" stroke="#121413" stroke-width="2.6" stroke-linecap="butt" />
<text x="857.8" y="1681.3" font-size="23.5" fill="#121413" text-anchor="middle" >0.0</text>
<line x1="911.52" y1="1647.7" x2="911.52" y2="1642.4" stroke="#121413" stroke-width="2.6" stroke-linecap="butt" />
<line x1="965.24" y1="1647.7" x2="965.24" y2="1636.7" stroke="#121413" stroke-width="2.6" stroke-linecap="butt" />
<text x="965.24" y="1681.3" font-size="23.5" fill="#121413" text-anchor="middle" >0.4</text>
<line x1="1018.96" y1="1647.7" x2="1018.96" y2="1642.4" stroke="#121413" stroke-width="2.6" stroke-linecap="butt" />
<line x1="1072.68" y1="1647.7" x2="1072.68" y2="1636.7" stroke="#121413" stroke-width="2.6" stroke-linecap="butt" />
<text x="1072.68" y="1681.3" font-size="23.5" fill="#121413" text-anchor="middle" >0.8</text>
<line x1="1126.4" y1="1647.7" x2="1126.4" y2="1642.4" stroke="#121413" stroke-width="2.6" stroke-linecap="butt" />
<line x1="1180.12" y1="1647.7" x2="1180.12" y2="1636.7" stroke="#121413" stroke-width="2.6" stroke-linecap="butt" />
<text x="1180.12" y="1681.3" font-size="23.5" fill="#121413" text-anchor="middle" >1.2</text>
<line x1="1233.84" y1="1647.7" x2="1233.84" y2="1642.4" stroke="#121413" stroke-width="2.6" stroke-linecap="butt" />
<text x="1287.56" y="1681.3" font-size="23.5" fill="#121413" text-anchor="middle" >1.6</text>
<text x="980.7" y="1731" font-size="28" fill="#121413" text-anchor="start" >Mg<tspan font-size="19.3" dy="-11.3">2+</tspan><tspan dy="11.3"> (mM)</tspan></text>
<text transform="translate(779.7,1407.3) rotate(-90)" font-size="32.3" fill="#121413">S<tspan font-size="23.9" dx="7.5" dy="10.3">20,W</tspan></text>
<line x1="873.75" y1="1125" x2="940" y2="1125" stroke="#121413" stroke-width="3" stroke-linecap="butt" />
<rect x="900.6" y="1118.6" width="12.8" height="12.8" fill="#fff" stroke="#121413" stroke-width="3"/>
<text x="946.9" y="1135" font-size="28.6" fill="#121413" text-anchor="start" >K20me0</text>
<line x1="873.75" y1="1160.75" x2="886.25" y2="1160.75" stroke="#434EA8" stroke-width="3" stroke-linecap="round" />
<line x1="927.5" y1="1160.75" x2="940" y2="1160.75" stroke="#434EA8" stroke-width="3" stroke-linecap="round" />
<circle cx="907" cy="1160.75" r="7" fill="#fff" stroke="#434EA8" stroke-width="3.4"/>
<text x="946.9" y="1170.5" font-size="28.6" fill="#121413" text-anchor="start" >K20me1</text>
<line x1="873.75" y1="1196.25" x2="886.75" y2="1196.25" stroke="#DA2A19" stroke-width="3" stroke-linecap="round" />
<line x1="919" y1="1196.25" x2="927" y2="1196.25" stroke="#DA2A19" stroke-width="3" stroke-linecap="round" />
<line x1="935" y1="1196.25" x2="935.1" y2="1196.25" stroke="#DA2A19" stroke-width="3" stroke-linecap="round" />
<polygon points="907,1186.35 918.4,1206.15 895.6,1206.15" fill="#DA2A19"/>
<polygon points="902.1,1198.45 911.9,1198.45 912.3,1200.55 901.7,1200.55" fill="#fff"/>
<text x="946.9" y="1206" font-size="28.6" fill="#121413" text-anchor="start" >K20me3</text>
<polyline points="858.2,1590 993,1392.4 1127.5,1238 1234.5,1118.75" fill="none" stroke="#121413" stroke-width="3.2" stroke-linecap="butt" stroke-linejoin="miter"/>
<rect x="851.55" y="1583.35" width="13.3" height="13.3" fill="#fff" stroke="#121413" stroke-width="3"/>
<rect x="986.35" y="1385.75" width="13.3" height="13.3" fill="#fff" stroke="#121413" stroke-width="3"/>
<rect x="1120.85" y="1231.35" width="13.3" height="13.3" fill="#fff" stroke="#121413" stroke-width="3"/>
<rect x="1227.85" y="1112.1" width="13.3" height="13.3" fill="#fff" stroke="#121413" stroke-width="3"/>
<polyline points="858.2,1624.3 993,1504 1127.5,1362.5 1234.5,1238.25" fill="none" stroke="#434EA8" stroke-width="3" stroke-linecap="round" stroke-linejoin="round" stroke-dasharray="10 15.4"/>
<circle cx="858.2" cy="1624.3" r="7.8" fill="#fff" stroke="#434EA8" stroke-width="3.4"/>
<circle cx="993" cy="1504" r="7.8" fill="#fff" stroke="#434EA8" stroke-width="3.4"/>
<circle cx="1127.5" cy="1362.5" r="7.8" fill="#fff" stroke="#434EA8" stroke-width="3.4"/>
<circle cx="1234.5" cy="1238.25" r="7.8" fill="#fff" stroke="#434EA8" stroke-width="3.4"/>
<polyline points="858.2,1608.2 992.5,1428 1127.5,1285 1234.5,1131.25" fill="none" stroke="#DA2A19" stroke-width="3" stroke-linecap="round" stroke-linejoin="round" stroke-dasharray="12 9 1.5 10"/>
<polygon points="858.2,1598.3 869.6,1618.1 846.8,1618.1" fill="#DA2A19"/>
<polygon points="853.3,1610.4 863.1,1610.4 863.5,1612.5 852.9,1612.5" fill="#fff"/>
<polygon points="992.5,1418.1 1003.9,1437.9 981.1,1437.9" fill="#DA2A19"/>
<polygon points="987.6,1430.2 997.4,1430.2 997.8,1432.3 987.2,1432.3" fill="#fff"/>
<polygon points="1127.5,1275.1 1138.9,1294.9 1116.1,1294.9" fill="#DA2A19"/>
<polygon points="1122.6,1287.2 1132.4,1287.2 1132.8,1289.3 1122.2,1289.3" fill="#fff"/>
<polygon points="1234.5,1121.35 1245.9,1141.15 1223.1,1141.15" fill="#DA2A19"/>
<polygon points="1229.6,1133.45 1239.4,1133.45 1239.8,1135.55 1229.2,1135.55" fill="#fff"/>
<rect x="1809.1" y="202.5" width="51.7" height="346.5" fill="#1D1C1A"/>
<rect x="1886.3" y="286.9" width="51.4" height="262.1" fill="#4651A9"/>
<rect x="1963.6" y="202.5" width="51.5" height="346.5" fill="#DC3013"/>
<circle cx="1817" cy="206.5" r="7.4" fill="#C85CB1"/>
<circle cx="1853" cy="198.2" r="7.4" fill="#C85CB1"/>
<circle cx="1894.3" cy="286.9" r="7.4" fill="#C85CB1"/>
<circle cx="1930.3" cy="286" r="7.4" fill="#C85CB1"/>
<circle cx="1971.3" cy="205" r="7.4" fill="#C85CB1"/>
<circle cx="2007.4" cy="198.8" r="7.4" fill="#C85CB1"/>
<line x1="1784" y1="161.2" x2="1784" y2="549" stroke="#121413" stroke-width="5.6" stroke-linecap="butt" />
<line x1="1766" y1="549" x2="2041" y2="549" stroke="#121413" stroke-width="5.6" stroke-linecap="butt" />
<line x1="1766" y1="549" x2="1784" y2="549" stroke="#121413" stroke-width="5.6" stroke-linecap="butt" />
<text x="1763.8" y="559.44" font-size="29" fill="#121413" text-anchor="end" >40</text>
<line x1="1766" y1="452.75" x2="1784" y2="452.75" stroke="#121413" stroke-width="5.6" stroke-linecap="butt" />
<text x="1763.8" y="463.19" font-size="29" fill="#121413" text-anchor="end" >45</text>
<line x1="1766" y1="356.5" x2="1784" y2="356.5" stroke="#121413" stroke-width="5.6" stroke-linecap="butt" />
<text x="1763.8" y="366.94" font-size="29" fill="#121413" text-anchor="end" >50</text>
<line x1="1766" y1="260.25" x2="1784" y2="260.25" stroke="#121413" stroke-width="5.6" stroke-linecap="butt" />
<text x="1763.8" y="270.69" font-size="29" fill="#121413" text-anchor="end" >55</text>
<line x1="1766" y1="164" x2="1784" y2="164" stroke="#121413" stroke-width="5.6" stroke-linecap="butt" />
<text x="1763.8" y="174.44" font-size="29" fill="#121413" text-anchor="end" >60</text>
<line x1="1834.8" y1="549" x2="1834.8" y2="566.8" stroke="#121413" stroke-width="5.6" stroke-linecap="butt" />
<line x1="1912" y1="549" x2="1912" y2="566.8" stroke="#121413" stroke-width="5.6" stroke-linecap="butt" />
<line x1="1988.9" y1="549" x2="1988.9" y2="566.8" stroke="#121413" stroke-width="5.6" stroke-linecap="butt" />
<text transform="translate(1865.5,593) rotate(-45)" font-size="28.5" fill="#121413" text-anchor="end">K20me0</text>
<text transform="translate(1941.6,593) rotate(-45)" font-size="28.5" fill="#121413" text-anchor="end">K20me1</text>
<text transform="translate(2019.8,593) rotate(-45)" font-size="28.5" fill="#121413" text-anchor="end">K20me3</text>
<text x="1805" y="732.6" font-size="37" fill="#121413" text-anchor="start" >1.4 mM Mg<tspan font-size="26.5" dy="-12.9">2+</tspan></text>
<text transform="translate(1703.3,491.6) rotate(-90)" font-size="32" fill="#121413">S<tspan font-size="24.2" dx="8" dy="10.8">20,W</tspan><tspan dx="9" dy="-10.8">(Mean)</tspan></text>
<rect x="1813.1" y="1146.4" width="52.8" height="372.6" fill="#121413"/>
<rect x="1888.2" y="1230.3" width="53" height="288.7" fill="#434EA8"/>
<rect x="1963.1" y="1157.9" width="53.4" height="361.1" fill="#DA291C"/>
<line x1="1839.2" y1="1130.6" x2="1839.2" y2="1147.6" stroke="#121413" stroke-width="2.4" stroke-linecap="butt" />
<line x1="1826.1" y1="1130.6" x2="1852.3" y2="1130.6" stroke="#121413" stroke-width="2.4" stroke-linecap="butt" />
<line x1="1914.9" y1="1207.8" x2="1914.9" y2="1252.6" stroke="#121413" stroke-width="2.4" stroke-linecap="butt" />
<line x1="1901.6" y1="1207.8" x2="1928.2" y2="1207.8" stroke="#121413" stroke-width="2.4" stroke-linecap="butt" />
<line x1="1901.6" y1="1252.6" x2="1928.2" y2="1252.6" stroke="#121413" stroke-width="2.4" stroke-linecap="butt" />
<line x1="1989.8" y1="1150.6" x2="1989.8" y2="1164.3" stroke="#121413" stroke-width="2.4" stroke-linecap="butt" />
<line x1="1976.45" y1="1150.6" x2="2003.15" y2="1150.6" stroke="#121413" stroke-width="2.4" stroke-linecap="butt" />
<line x1="1976.45" y1="1164.3" x2="2003.15" y2="1164.3" stroke="#121413" stroke-width="2.4" stroke-linecap="butt" />
<circle cx="1819.6" cy="1128.3" r="7.4" fill="#C85CB1"/>
<circle cx="1832.2" cy="1136.3" r="7.4" fill="#C85CB1"/>
<circle cx="1863.6" cy="1143" r="7.4" fill="#C85CB1"/>
<circle cx="1852.2" cy="1155" r="7.4" fill="#C85CB1"/>
<circle cx="1840.5" cy="1168.7" r="7.4" fill="#C85CB1"/>
<circle cx="1915.9" cy="1215.4" r="7.4" fill="#C85CB1"/>
<circle cx="1934.5" cy="1219.3" r="7.4" fill="#C85CB1"/>
<circle cx="1894.9" cy="1255.5" r="7.4" fill="#C85CB1"/>
<circle cx="1971.7" cy="1152" r="7.4" fill="#C85CB1"/>
<circle cx="2010.4" cy="1155" r="7.4" fill="#C85CB1"/>
<circle cx="1988.9" cy="1165.9" r="7.4" fill="#C85CB1"/>
<line x1="1781.5" y1="1086.8" x2="1781.5" y2="1519" stroke="#121413" stroke-width="5.6" stroke-linecap="butt" />
<line x1="1764.5" y1="1519" x2="2051" y2="1519" stroke="#121413" stroke-width="5.6" stroke-linecap="butt" />
<line x1="1764.5" y1="1518.6" x2="1781.5" y2="1518.6" stroke="#121413" stroke-width="5.6" stroke-linecap="butt" />
<text x="1761" y="1528.02" font-size="29.5" fill="#121413" text-anchor="end" >40</text>
<line x1="1764.5" y1="1432.8" x2="1781.5" y2="1432.8" stroke="#121413" stroke-width="5.6" stroke-linecap="butt" />
<text x="1761" y="1443.62" font-size="29.5" fill="#121413" text-anchor="end" >45</text>
<line x1="1764.5" y1="1347" x2="1781.5" y2="1347" stroke="#121413" stroke-width="5.6" stroke-linecap="butt" />
<text x="1761" y="1355.42" font-size="29.5" fill="#121413" text-anchor="end" >50</text>
<line x1="1764.5" y1="1261.2" x2="1781.5" y2="1261.2" stroke="#121413" stroke-width="5.6" stroke-linecap="butt" />
<text x="1761" y="1267.82" font-size="29.5" fill="#121413" text-anchor="end" >55</text>
<line x1="1764.5" y1="1175.4" x2="1781.5" y2="1175.4" stroke="#121413" stroke-width="5.6" stroke-linecap="butt" />
<text x="1761" y="1189.42" font-size="29.5" fill="#121413" text-anchor="end" >60</text>
<line x1="1764.5" y1="1089.6" x2="1781.5" y2="1089.6" stroke="#121413" stroke-width="5.6" stroke-linecap="butt" />
<text x="1761" y="1096.32" font-size="29.5" fill="#121413" text-anchor="end" >65</text>
<line x1="1837" y1="1519" x2="1837" y2="1537.1" stroke="#121413" stroke-width="5.6" stroke-linecap="butt" />
<line x1="1914" y1="1519" x2="1914" y2="1537.1" stroke="#121413" stroke-width="5.6" stroke-linecap="butt" />
<line x1="1991.6" y1="1519" x2="1991.6" y2="1537.1" stroke="#121413" stroke-width="5.6" stroke-linecap="butt" />
<text transform="translate(1862.2,1571.5) rotate(-45)" font-size="28" fill="#121413" text-anchor="end">K20me0</text>
<text transform="translate(1938.6,1571.5) rotate(-45)" font-size="28" fill="#121413" text-anchor="end">K20me1</text>
<text transform="translate(2016.3,1571.5) rotate(-45)" font-size="28" fill="#121413" text-anchor="end">K20me3</text>
<text x="1804.4" y="1714.6" font-size="37" fill="#121413" text-anchor="start" >1.4 mM Mg<tspan font-size="26.5" dy="-12.9">2+</tspan></text>
<text transform="translate(1700.8,1458.5) rotate(-90)" font-size="32" fill="#121413">S<tspan font-size="24.2" dx="8" dy="10.8">20,W</tspan><tspan dx="9" dy="-10.8">(Mean ± SD)</tspan></text>
<line x1="1837.4" y1="1051.5" x2="1993.6" y2="1051.5" stroke="#121413" stroke-width="5.7" stroke-linecap="round" />
<line x1="1837.4" y1="1104.9" x2="1909.8" y2="1104.9" stroke="#121413" stroke-width="5.7" stroke-linecap="round" />
<line x1="1923.6" y1="1104.9" x2="1996.2" y2="1104.9" stroke="#121413" stroke-width="5.7" stroke-linecap="round" />
<text x="1914.5" y="1042" font-size="37" fill="#121413" text-anchor="middle" >ns</text>
<text x="1876.5" y="1110.6" font-size="42" fill="#121413" text-anchor="middle" letter-spacing="2">***</text>
<text x="1963.2" y="1110.6" font-size="42" fill="#121413" text-anchor="middle" letter-spacing="2">**</text>
<rect x="1503.75" y="170.6" width="92" height="58" fill="#F9F9F9"/>
<circle cx="1521.9" cy="191.4" r="11.2" fill="#DD2418"/>
<circle cx="1540" cy="194.3" r="10.7" fill="#DD2418"/>
<circle cx="1556" cy="190" r="10" fill="#DD2418"/>
<circle cx="1570.7" cy="184.5" r="8" fill="#DD2418"/>
<circle cx="1583.9" cy="192.4" r="9.6" fill="#DD2418"/>
<circle cx="1527.3" cy="205" r="10.5" fill="#DD2418"/>
<circle cx="1567.3" cy="204" r="9.8" fill="#DD2418"/>
<circle cx="1576" cy="215.8" r="9.6" fill="#DD2418"/>
<circle cx="1543.9" cy="211.9" r="9.5" fill="#DD2418"/>
<circle cx="1555" cy="211.9" r="9" fill="#DD2418"/>
<circle cx="1534" cy="213" r="8" fill="#DD2418"/>
<circle cx="1561" cy="196" r="8" fill="#DD2418"/>
<circle cx="1521.9" cy="191.4" r="10.6" fill="none" stroke="#5A2AAE" stroke-width="0.9" stroke-dasharray="1.2 3"/>
<circle cx="1540" cy="194.3" r="10.1" fill="none" stroke="#5A2AAE" stroke-width="0.9" stroke-dasharray="1.2 3"/>
<circle cx="1556" cy="190" r="9.4" fill="none" stroke="#5A2AAE" stroke-width="0.9" stroke-dasharray="1.2 3"/>
<circle cx="1570.7" cy="184.5" r="7.4" fill="none" stroke="#5A2AAE" stroke-width="0.9" stroke-dasharray="1.2 3"/>
<circle cx="1583.9" cy="192.4" r="9" fill="none" stroke="#5A2AAE" stroke-width="0.9" stroke-dasharray="1.2 3"/>
<circle cx="1527.3" cy="205" r="9.9" fill="none" stroke="#5A2AAE" stroke-width="0.9" stroke-dasharray="1.2 3"/>
<circle cx="1567.3" cy="204" r="9.2" fill="none" stroke="#5A2AAE" stroke-width="0.9" stroke-dasharray="1.2 3"/>
<circle cx="1576" cy="215.8" r="9" fill="none" stroke="#5A2AAE" stroke-width="0.9" stroke-dasharray="1.2 3"/>
<circle cx="1543.9" cy="211.9" r="8.9" fill="none" stroke="#5A2AAE" stroke-width="0.9" stroke-dasharray="1.2 3"/>
<circle cx="1555" cy="211.9" r="8.4" fill="none" stroke="#5A2AAE" stroke-width="0.9" stroke-dasharray="1.2 3"/>
<circle cx="1534" cy="213" r="7.4" fill="none" stroke="#5A2AAE" stroke-width="0.9" stroke-dasharray="1.2 3"/>
<circle cx="1561" cy="196" r="7.4" fill="none" stroke="#5A2AAE" stroke-width="0.9" stroke-dasharray="1.2 3"/>
<ellipse cx="1521.9" cy="193.4" rx="4.9" ry="4.4" transform="rotate(0 1521.9 193.4)" fill="url(#nuc)"/>
<ellipse cx="1540.5" cy="195.3" rx="5.6" ry="5.6" transform="rotate(0 1540.5 195.3)" fill="url(#nuc)"/>
<ellipse cx="1557" cy="190.4" rx="4.1" ry="5.4" transform="rotate(20 1557 190.4)" fill="url(#nuc)"/>
<ellipse cx="1573.6" cy="186" rx="2.9" ry="5.4" transform="rotate(10 1573.6 186)" fill="url(#nuc)"/>
<ellipse cx="1584.3" cy="192.9" rx="4.4" ry="4.9" transform="rotate(30 1584.3 192.9)" fill="url(#nuc)"/>
<ellipse cx="1527.3" cy="202.6" rx="4.9" ry="3.4" transform="rotate(20 1527.3 202.6)" fill="url(#nuc)"/>
<ellipse cx="1566.8" cy="203.1" rx="4.9" ry="4.9" transform="rotate(0 1566.8 203.1)" fill="url(#nuc)"/>
<ellipse cx="1574.6" cy="215.8" rx="4.4" ry="4.9" transform="rotate(0 1574.6 215.8)" fill="url(#nuc)"/>
<ellipse cx="1555.6" cy="207.5" rx="3.4" ry="2.0" transform="rotate(0 1555.6 207.5)" fill="url(#nuc)"/>
<ellipse cx="1535.1" cy="214.8" rx="3.9" ry="2.0" transform="rotate(0 1535.1 214.8)" fill="url(#nuc)"/>
<ellipse cx="1553.6" cy="217.7" rx="3.5" ry="2.2" transform="rotate(0 1553.6 217.7)" fill="url(#nuc)"/>
<line x1="1608.8" y1="199.9" x2="1641.3" y2="199.9" stroke="#EF7A00" stroke-width="3.4" stroke-linecap="butt" />
<polygon points="1665,199.9 1636.3,183.9 1641.3,199.9 1636.3,215.9" fill="#EF7A00"/>
<polyline points="1509,277 1522,297 1514,316" fill="none" stroke="#D8281E" stroke-width="5.5" stroke-linecap="round" stroke-linejoin="round"/>
<polyline points="1536,278 1550,292 1562,306 1578,326" fill="none" stroke="#D8281E" stroke-width="5.5" stroke-linecap="round" stroke-linejoin="round"/>
<polyline points="1544,284 1558,292 1570,294 1590,293" fill="none" stroke="#D8281E" stroke-width="5.5" stroke-linecap="round" stroke-linejoin="round"/>
<polyline points="1522,300 1538,290" fill="none" stroke="#D8281E" stroke-width="5.5" stroke-linecap="round" stroke-linejoin="round"/>
<polyline points="1524,308 1534,298" fill="none" stroke="#D8281E" stroke-width="5.5" stroke-linecap="round" stroke-linejoin="round"/>
<polyline points="1544,310 1562,304" fill="none" stroke="#D8281E" stroke-width="5.5" stroke-linecap="round" stroke-linejoin="round"/>
<ellipse cx="1517.6" cy="282.7" rx="6.5" ry="9" transform="rotate(-40 1517.6 282.7)" fill="#E4E2F6" stroke="#D8281E" stroke-width="4"/>
<ellipse cx="1517.6" cy="282.7" rx="8.5" ry="11" transform="rotate(-40 1517.6 282.7)" fill="none" stroke="#5030A8" stroke-width="0.9" stroke-dasharray="2 2.5"/>
<ellipse cx="1542.4" cy="282.7" rx="6.5" ry="8.5" transform="rotate(-40 1542.4 282.7)" fill="#E4E2F6" stroke="#D8281E" stroke-width="4"/>
<ellipse cx="1542.4" cy="282.7" rx="8.5" ry="10.5" transform="rotate(-40 1542.4 282.7)" fill="none" stroke="#5030A8" stroke-width="0.9" stroke-dasharray="2 2.5"/>
<ellipse cx="1530.2" cy="294.4" rx="5" ry="6" transform="rotate(-40 1530.2 294.4)" fill="#E4E2F6" stroke="#D8281E" stroke-width="4"/>
<ellipse cx="1530.2" cy="294.4" rx="7" ry="8" transform="rotate(-40 1530.2 294.4)" fill="none" stroke="#5030A8" stroke-width="0.9" stroke-dasharray="2 2.5"/>
<ellipse cx="1520.5" cy="308.5" rx="7" ry="6" transform="rotate(-30 1520.5 308.5)" fill="#E4E2F6" stroke="#D8281E" stroke-width="4"/>
<ellipse cx="1520.5" cy="308.5" rx="9" ry="8" transform="rotate(-30 1520.5 308.5)" fill="none" stroke="#5030A8" stroke-width="0.9" stroke-dasharray="2 2.5"/>
<ellipse cx="1550.7" cy="309" rx="8" ry="6.5" transform="rotate(0 1550.7 309)" fill="#E4E2F6" stroke="#D8281E" stroke-width="4"/>
<ellipse cx="1550.7" cy="309" rx="10" ry="8.5" transform="rotate(0 1550.7 309)" fill="none" stroke="#5030A8" stroke-width="0.9" stroke-dasharray="2 2.5"/>
<ellipse cx="1568.3" cy="293.4" rx="6" ry="5" transform="rotate(0 1568.3 293.4)" fill="#E4E2F6" stroke="#D8281E" stroke-width="4"/>
<ellipse cx="1568.3" cy="293.4" rx="8" ry="7" transform="rotate(0 1568.3 293.4)" fill="none" stroke="#5030A8" stroke-width="0.9" stroke-dasharray="2 2.5"/>
<ellipse cx="1585.8" cy="295.4" rx="7" ry="7" transform="rotate(0 1585.8 295.4)" fill="#E4E2F6" stroke="#D8281E" stroke-width="4"/>
<ellipse cx="1585.8" cy="295.4" rx="9" ry="9" transform="rotate(0 1585.8 295.4)" fill="none" stroke="#5030A8" stroke-width="0.9" stroke-dasharray="2 2.5"/>
<ellipse cx="1570.2" cy="309" rx="6" ry="5" transform="rotate(30 1570.2 309)" fill="#E4E2F6" stroke="#D8281E" stroke-width="4"/>
<ellipse cx="1570.2" cy="309" rx="8" ry="7" transform="rotate(30 1570.2 309)" fill="none" stroke="#5030A8" stroke-width="0.9" stroke-dasharray="2 2.5"/>
<ellipse cx="1577" cy="323.1" rx="6.5" ry="5" transform="rotate(30 1577 323.1)" fill="#E4E2F6" stroke="#D8281E" stroke-width="4"/>
<ellipse cx="1577" cy="323.1" rx="8.5" ry="7" transform="rotate(30 1577 323.1)" fill="none" stroke="#5030A8" stroke-width="0.9" stroke-dasharray="2 2.5"/>
<line x1="1608.8" y1="295" x2="1641.3" y2="295" stroke="#EF7A00" stroke-width="3.4" stroke-linecap="butt" />
<polygon points="1665,295 1636.3,279 1641.3,295 1636.3,311" fill="#EF7A00"/>
<polyline points="1485,531.5 1494,547.5 1509,526.5 1514,534.5 1529,546.5 1540,524.5 1557,542.5 1558,534.5 1584,548.5 1582,530.5 1595,527.5" fill="none" stroke="#D42A1E" stroke-width="3" stroke-linejoin="round"/>
<circle cx="1485" cy="531.5" r="5.5" fill="none" stroke="#D42A1E" stroke-width="2.4"/>
<circle cx="1485" cy="531.5" r="3.6" fill="url(#nuc)"/>
<circle cx="1494" cy="547.5" r="5.5" fill="none" stroke="#D42A1E" stroke-width="2.4"/>
<circle cx="1494" cy="547.5" r="3.6" fill="url(#nuc)"/>
<circle cx="1509" cy="526.5" r="5.5" fill="none" stroke="#D42A1E" stroke-width="2.4"/>
<circle cx="1509" cy="526.5" r="3.6" fill="url(#nuc)"/>
<circle cx="1514" cy="534.5" r="5.5" fill="none" stroke="#D42A1E" stroke-width="2.4"/>
<circle cx="1514" cy="534.5" r="3.6" fill="url(#nuc)"/>
<circle cx="1529" cy="546.5" r="5.5" fill="none" stroke="#D42A1E" stroke-width="2.4"/>
<circle cx="1529" cy="546.5" r="3.6" fill="url(#nuc)"/>
<circle cx="1540" cy="524.5" r="5.5" fill="none" stroke="#D42A1E" stroke-width="2.4"/>
<circle cx="1540" cy="524.5" r="3.6" fill="url(#nuc)"/>
<circle cx="1557" cy="542.5" r="5.5" fill="none" stroke="#D42A1E" stroke-width="2.4"/>
<circle cx="1557" cy="542.5" r="3.6" fill="url(#nuc)"/>
<circle cx="1558" cy="534.5" r="5.5" fill="none" stroke="#D42A1E" stroke-width="2.4"/>
<circle cx="1558" cy="534.5" r="3.6" fill="url(#nuc)"/>
<circle cx="1584" cy="548.5" r="5.5" fill="none" stroke="#D42A1E" stroke-width="2.4"/>
<circle cx="1584" cy="548.5" r="3.6" fill="url(#nuc)"/>
<circle cx="1582" cy="530.5" r="5.5" fill="none" stroke="#D42A1E" stroke-width="2.4"/>
<circle cx="1582" cy="530.5" r="3.6" fill="url(#nuc)"/>
<circle cx="1595" cy="527.5" r="5.5" fill="none" stroke="#D42A1E" stroke-width="2.4"/>
<circle cx="1595" cy="527.5" r="3.6" fill="url(#nuc)"/>
<line x1="1618" y1="533.6" x2="1650" y2="533.6" stroke="#EF7A00" stroke-width="3.4" stroke-linecap="butt" />
<polygon points="1673,533.6 1645,517.9 1650,533.6 1645,549.3" fill="#EF7A00"/>
<rect x="1501.25" y="1111.25" width="92" height="58" fill="#F9F9F9"/>
<circle cx="1519.4" cy="1132.05" r="11.2" fill="#DD2418"/>
<circle cx="1537.5" cy="1134.95" r="10.7" fill="#DD2418"/>
<circle cx="1553.5" cy="1130.65" r="10" fill="#DD2418"/>
<circle cx="1568.2" cy="1125.15" r="8" fill="#DD2418"/>
<circle cx="1581.4" cy="1133.05" r="9.6" fill="#DD2418"/>
<circle cx="1524.8" cy="1145.65" r="10.5" fill="#DD2418"/>
<circle cx="1564.8" cy="1144.65" r="9.8" fill="#DD2418"/>
<circle cx="1573.5" cy="1156.45" r="9.6" fill="#DD2418"/>
<circle cx="1541.4" cy="1152.55" r="9.5" fill="#DD2418"/>
<circle cx="1552.5" cy="1152.55" r="9" fill="#DD2418"/>
<circle cx="1531.5" cy="1153.65" r="8" fill="#DD2418"/>
<circle cx="1558.5" cy="1136.65" r="8" fill="#DD2418"/>
<circle cx="1519.4" cy="1132.05" r="10.6" fill="none" stroke="#5A2AAE" stroke-width="0.9" stroke-dasharray="1.2 3"/>
<circle cx="1537.5" cy="1134.95" r="10.1" fill="none" stroke="#5A2AAE" stroke-width="0.9" stroke-dasharray="1.2 3"/>
<circle cx="1553.5" cy="1130.65" r="9.4" fill="none" stroke="#5A2AAE" stroke-width="0.9" stroke-dasharray="1.2 3"/>
<circle cx="1568.2" cy="1125.15" r="7.4" fill="none" stroke="#5A2AAE" stroke-width="0.9" stroke-dasharray="1.2 3"/>
<circle cx="1581.4" cy="1133.05" r="9" fill="none" stroke="#5A2AAE" stroke-width="0.9" stroke-dasharray="1.2 3"/>
<circle cx="1524.8" cy="1145.65" r="9.9" fill="none" stroke="#5A2AAE" stroke-width="0.9" stroke-dasharray="1.2 3"/>
<circle cx="1564.8" cy="1144.65" r="9.2" fill="none" stroke="#5A2AAE" stroke-width="0.9" stroke-dasharray="1.2 3"/>
<circle cx="1573.5" cy="1156.45" r="9" fill="none" stroke="#5A2AAE" stroke-width="0.9" stroke-dasharray="1.2 3"/>
<circle cx="1541.4" cy="1152.55" r="8.9" fill="none" stroke="#5A2AAE" stroke-width="0.9" stroke-dasharray="1.2 3"/>
<circle cx="1552.5" cy="1152.55" r="8.4" fill="none" stroke="#5A2AAE" stroke-width="0.9" stroke-dasharray="1.2 3"/>
<circle cx="1531.5" cy="1153.65" r="7.4" fill="none" stroke="#5A2AAE" stroke-width="0.9" stroke-dasharray="1.2 3"/>
<circle cx="1558.5" cy="1136.65" r="7.4" fill="none" stroke="#5A2AAE" stroke-width="0.9" stroke-dasharray="1.2 3"/>
<ellipse cx="1519.4" cy="1134.05" rx="4.9" ry="4.4" transform="rotate(0 1519.4 1134.05)" fill="url(#nuc)"/>
<ellipse cx="1538" cy="1135.95" rx="5.6" ry="5.6" transform="rotate(0 1538 1135.95)" fill="url(#nuc)"/>
<ellipse cx="1554.5" cy="1131.05" rx="4.1" ry="5.4" transform="rotate(20 1554.5 1131.05)" fill="url(#nuc)"/>
<ellipse cx="1571.1" cy="1126.65" rx="2.9" ry="5.4" transform="rotate(10 1571.1 1126.65)" fill="url(#nuc)"/>
<ellipse cx="1581.8" cy="1133.55" rx="4.4" ry="4.9" transform="rotate(30 1581.8 1133.55)" fill="url(#nuc)"/>
<ellipse cx="1524.8" cy="1143.25" rx="4.9" ry="3.4" transform="rotate(20 1524.8 1143.25)" fill="url(#nuc)"/>
<ellipse cx="1564.3" cy="1143.75" rx="4.9" ry="4.9" transform="rotate(0 1564.3 1143.75)" fill="url(#nuc)"/>
<ellipse cx="1572.1" cy="1156.45" rx="4.4" ry="4.9" transform="rotate(0 1572.1 1156.45)" fill="url(#nuc)"/>
<ellipse cx="1553.1" cy="1148.15" rx="3.4" ry="2.0" transform="rotate(0 1553.1 1148.15)" fill="url(#nuc)"/>
<ellipse cx="1532.6" cy="1155.45" rx="3.9" ry="2.0" transform="rotate(0 1532.6 1155.45)" fill="url(#nuc)"/>
<ellipse cx="1551.1" cy="1158.35" rx="3.5" ry="2.2" transform="rotate(0 1551.1 1158.35)" fill="url(#nuc)"/>
<line x1="1606.9" y1="1140" x2="1638.8" y2="1140" stroke="#EF7A00" stroke-width="3.4" stroke-linecap="butt" />
<polygon points="1661.9,1140 1633.8,1124.4 1638.8,1140 1633.8,1155.6" fill="#EF7A00"/>
<polyline points="1507.2,1219 1520.2,1239 1512.2,1258" fill="none" stroke="#D8281E" stroke-width="5.5" stroke-linecap="round" stroke-linejoin="round"/>
<polyline points="1534.2,1220 1548.2,1234 1560.2,1248 1576.2,1268" fill="none" stroke="#D8281E" stroke-width="5.5" stroke-linecap="round" stroke-linejoin="round"/>
<polyline points="1542.2,1226 1556.2,1234 1568.2,1236 1588.2,1235" fill="none" stroke="#D8281E" stroke-width="5.5" stroke-linecap="round" stroke-linejoin="round"/>
<polyline points="1520.2,1242 1536.2,1232" fill="none" stroke="#D8281E" stroke-width="5.5" stroke-linecap="round" stroke-linejoin="round"/>
<polyline points="1522.2,1250 1532.2,1240" fill="none" stroke="#D8281E" stroke-width="5.5" stroke-linecap="round" stroke-linejoin="round"/>
<polyline points="1542.2,1252 1560.2,1246" fill="none" stroke="#D8281E" stroke-width="5.5" stroke-linecap="round" stroke-linejoin="round"/>
<ellipse cx="1515.8" cy="1224.7" rx="6.5" ry="9" transform="rotate(-40 1515.8 1224.7)" fill="#E4E2F6" stroke="#D8281E" stroke-width="4"/>
<ellipse cx="1515.8" cy="1224.7" rx="8.5" ry="11" transform="rotate(-40 1515.8 1224.7)" fill="none" stroke="#5030A8" stroke-width="0.9" stroke-dasharray="2 2.5"/>
<ellipse cx="1540.6" cy="1224.7" rx="6.5" ry="8.5" transform="rotate(-40 1540.6 1224.7)" fill="#E4E2F6" stroke="#D8281E" stroke-width="4"/>
<ellipse cx="1540.6" cy="1224.7" rx="8.5" ry="10.5" transform="rotate(-40 1540.6 1224.7)" fill="none" stroke="#5030A8" stroke-width="0.9" stroke-dasharray="2 2.5"/>
<ellipse cx="1528.4" cy="1236.4" rx="5" ry="6" transform="rotate(-40 1528.4 1236.4)" fill="#E4E2F6" stroke="#D8281E" stroke-width="4"/>
<ellipse cx="1528.4" cy="1236.4" rx="7" ry="8" transform="rotate(-40 1528.4 1236.4)" fill="none" stroke="#5030A8" stroke-width="0.9" stroke-dasharray="2 2.5"/>
<ellipse cx="1518.7" cy="1250.5" rx="7" ry="6" transform="rotate(-30 1518.7 1250.5)" fill="#E4E2F6" stroke="#D8281E" stroke-width="4"/>
<ellipse cx="1518.7" cy="1250.5" rx="9" ry="8" transform="rotate(-30 1518.7 1250.5)" fill="none" stroke="#5030A8" stroke-width="0.9" stroke-dasharray="2 2.5"/>
<ellipse cx="1548.9" cy="1251" rx="8" ry="6.5" transform="rotate(0 1548.9 1251)" fill="#E4E2F6" stroke="#D8281E" stroke-width="4"/>
<ellipse cx="1548.9" cy="1251" rx="10" ry="8.5" transform="rotate(0 1548.9 1251)" fill="none" stroke="#5030A8" stroke-width="0.9" stroke-dasharray="2 2.5"/>
<ellipse cx="1566.5" cy="1235.4" rx="6" ry="5" transform="rotate(0 1566.5 1235.4)" fill="#E4E2F6" stroke="#D8281E" stroke-width="4"/>
<ellipse cx="1566.5" cy="1235.4" rx="8" ry="7" transform="rotate(0 1566.5 1235.4)" fill="none" stroke="#5030A8" stroke-width="0.9" stroke-dasharray="2 2.5"/>
<ellipse cx="1584" cy="1237.4" rx="7" ry="7" transform="rotate(0 1584 1237.4)" fill="#E4E2F6" stroke="#D8281E" stroke-width="4"/>
<ellipse cx="1584" cy="1237.4" rx="9" ry="9" transform="rotate(0 1584 1237.4)" fill="none" stroke="#5030A8" stroke-width="0.9" stroke-dasharray="2 2.5"/>
<ellipse cx="1568.4" cy="1251" rx="6" ry="5" transform="rotate(30 1568.4 1251)" fill="#E4E2F6" stroke="#D8281E" stroke-width="4"/>
<ellipse cx="1568.4" cy="1251" rx="8" ry="7" transform="rotate(30 1568.4 1251)" fill="none" stroke="#5030A8" stroke-width="0.9" stroke-dasharray="2 2.5"/>
<ellipse cx="1575.2" cy="1265.1" rx="6.5" ry="5" transform="rotate(30 1575.2 1265.1)" fill="#E4E2F6" stroke="#D8281E" stroke-width="4"/>
<ellipse cx="1575.2" cy="1265.1" rx="8.5" ry="7" transform="rotate(30 1575.2 1265.1)" fill="none" stroke="#5030A8" stroke-width="0.9" stroke-dasharray="2 2.5"/>
<line x1="1606.7" y1="1239.2" x2="1638" y2="1239.2" stroke="#EF7A00" stroke-width="3.4" stroke-linecap="butt" />
<polygon points="1661,1239.2 1633,1223.6 1638,1239.2 1633,1254.8" fill="#EF7A00"/>
<polyline points="1482,1513 1491,1529 1506,1508 1511,1516 1526,1528 1537,1506 1554,1524 1555,1516 1581,1530 1579,1512 1592,1509" fill="none" stroke="#D42A1E" stroke-width="3" stroke-linejoin="round"/>
<circle cx="1482" cy="1513" r="5.5" fill="none" stroke="#D42A1E" stroke-width="2.4"/>
<circle cx="1482" cy="1513" r="3.6" fill="url(#nuc)"/>
<circle cx="1491" cy="1529" r="5.5" fill="none" stroke="#D42A1E" stroke-width="2.4"/>
<circle cx="1491" cy="1529" r="3.6" fill="url(#nuc)"/>
<circle cx="1506" cy="1508" r="5.5" fill="none" stroke="#D42A1E" stroke-width="2.4"/>
<circle cx="1506" cy="1508" r="3.6" fill="url(#nuc)"/>
<circle cx="1511" cy="1516" r="5.5" fill="none" stroke="#D42A1E" stroke-width="2.4"/>
<circle cx="1511" cy="1516" r="3.6" fill="url(#nuc)"/>
<circle cx="1526" cy="1528" r="5.5" fill="none" stroke="#D42A1E" stroke-width="2.4"/>
<circle cx="1526" cy="1528" r="3.6" fill="url(#nuc)"/>
<circle cx="1537" cy="1506" r="5.5" fill="none" stroke="#D42A1E" stroke-width="2.4"/>
<circle cx="1537" cy="1506" r="3.6" fill="url(#nuc)"/>
<circle cx="1554" cy="1524" r="5.5" fill="none" stroke="#D42A1E" stroke-width="2.4"/>
<circle cx="1554" cy="1524" r="3.6" fill="url(#nuc)"/>
<circle cx="1555" cy="1516" r="5.5" fill="none" stroke="#D42A1E" stroke-width="2.4"/>
<circle cx="1555" cy="1516" r="3.6" fill="url(#nuc)"/>
<circle cx="1581" cy="1530" r="5.5" fill="none" stroke="#D42A1E" stroke-width="2.4"/>
<circle cx="1581" cy="1530" r="3.6" fill="url(#nuc)"/>
<circle cx="1579" cy="1512" r="5.5" fill="none" stroke="#D42A1E" stroke-width="2.4"/>
<circle cx="1579" cy="1512" r="3.6" fill="url(#nuc)"/>
<circle cx="1592" cy="1509" r="5.5" fill="none" stroke="#D42A1E" stroke-width="2.4"/>
<circle cx="1592" cy="1509" r="3.6" fill="url(#nuc)"/>
<line x1="1615" y1="1513.2" x2="1647" y2="1513.2" stroke="#EF7A00" stroke-width="3.4" stroke-linecap="butt" />
<polygon points="1670,1513.2 1642,1497.6 1647,1513.2 1642,1528.8" fill="#EF7A00"/>
</svg>
</body></html>
